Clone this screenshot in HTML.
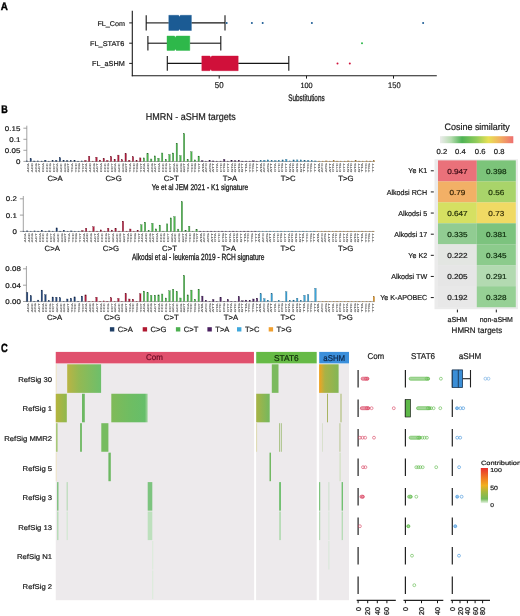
<!DOCTYPE html><html><head><meta charset="utf-8"><style>html,body{margin:0;padding:0;background:#fff;}body{width:520px;height:616px;overflow:hidden;}svg{display:block;will-change:transform;text-rendering:geometricPrecision;font-family:"Liberation Sans", sans-serif;}</style></head><body>
<svg width="520" height="616" viewBox="0 0 520 616">
<rect x="0.00" y="0.00" width="520.00" height="616.00" fill="#ffffff" />
<text transform="translate(0.70,9.80) scale(0.890,1)" font-size="11.05" fill="#000" font-weight="bold" stroke="#000" stroke-width="0.4">A</text>
<line x1="132.30" y1="10.80" x2="132.30" y2="76.30" stroke="#1a1a1a" stroke-width="1.1" />
<line x1="131.80" y1="75.80" x2="436.80" y2="75.80" stroke="#1a1a1a" stroke-width="1.1" />
<line x1="129.20" y1="22.90" x2="132.30" y2="22.90" stroke="#1a1a1a" stroke-width="1.0" />
<text transform="translate(97.40,25.60) scale(1.047,1)" font-size="6.88" fill="#1a1a1a"  stroke="#1a1a1a" stroke-width="0.2">FL_Com</text>
<line x1="146.20" y1="22.90" x2="168.80" y2="22.90" stroke="#151515" stroke-width="1.1" />
<line x1="191.40" y1="22.90" x2="225.00" y2="22.90" stroke="#151515" stroke-width="1.1" />
<line x1="146.20" y1="15.30" x2="146.20" y2="30.50" stroke="#151515" stroke-width="1.1" />
<line x1="225.00" y1="15.30" x2="225.00" y2="30.50" stroke="#151515" stroke-width="1.1" />
<polygon points="168.80,15.30 178.60,15.30 179.50,16.70 180.40,15.30 191.40,15.30 191.40,30.50 180.40,30.50 179.50,29.10 178.60,30.50 168.80,30.50" fill="#1b5b94" stroke="#1b5b94" stroke-width="0.4"/>
<circle cx="226.70" cy="22.90" r="1.0" fill="#1b5b94" stroke="none" stroke-width="0.6"/>
<circle cx="251.90" cy="22.90" r="1.0" fill="#1b5b94" stroke="none" stroke-width="0.6"/>
<circle cx="262.70" cy="22.90" r="1.0" fill="#1b5b94" stroke="none" stroke-width="0.6"/>
<circle cx="311.90" cy="22.90" r="1.0" fill="#1b5b94" stroke="none" stroke-width="0.6"/>
<circle cx="423.10" cy="22.90" r="1.0" fill="#1b5b94" stroke="none" stroke-width="0.6"/>
<line x1="129.20" y1="43.20" x2="132.30" y2="43.20" stroke="#1a1a1a" stroke-width="1.0" />
<text transform="translate(90.00,46.40) scale(1.067,1)" font-size="6.88" fill="#1a1a1a"  stroke="#1a1a1a" stroke-width="0.2">FL_STAT6</text>
<line x1="147.90" y1="43.20" x2="167.00" y2="43.20" stroke="#151515" stroke-width="1.1" />
<line x1="189.80" y1="43.20" x2="220.80" y2="43.20" stroke="#151515" stroke-width="1.1" />
<line x1="147.90" y1="36.00" x2="147.90" y2="50.50" stroke="#151515" stroke-width="1.1" />
<line x1="220.80" y1="36.00" x2="220.80" y2="50.50" stroke="#151515" stroke-width="1.1" />
<polygon points="167.00,36.00 174.50,36.00 175.40,37.40 176.30,36.00 189.80,36.00 189.80,50.50 176.30,50.50 175.40,49.10 174.50,50.50 167.00,50.50" fill="#2eb84a" stroke="#2eb84a" stroke-width="0.4"/>
<circle cx="362.00" cy="43.20" r="1.0" fill="#2eb84a" stroke="none" stroke-width="0.6"/>
<line x1="129.20" y1="63.40" x2="132.30" y2="63.40" stroke="#1a1a1a" stroke-width="1.0" />
<text transform="translate(92.10,66.30) scale(0.991,1)" font-size="7.31" fill="#1a1a1a"  stroke="#1a1a1a" stroke-width="0.2">FL_aSHM</text>
<line x1="167.30" y1="63.40" x2="201.80" y2="63.40" stroke="#151515" stroke-width="1.1" />
<line x1="238.20" y1="63.40" x2="288.80" y2="63.40" stroke="#151515" stroke-width="1.1" />
<line x1="167.30" y1="56.00" x2="167.30" y2="70.70" stroke="#151515" stroke-width="1.1" />
<line x1="288.80" y1="56.00" x2="288.80" y2="70.70" stroke="#151515" stroke-width="1.1" />
<polygon points="201.80,56.00 209.90,56.00 210.80,57.40 211.70,56.00 238.20,56.00 238.20,70.70 211.70,70.70 210.80,69.30 209.90,70.70 201.80,70.70" fill="#d0103a" stroke="#d0103a" stroke-width="0.4"/>
<circle cx="337.50" cy="63.40" r="1.0" fill="#d0103a" stroke="none" stroke-width="0.6"/>
<circle cx="349.80" cy="63.40" r="1.0" fill="#d0103a" stroke="none" stroke-width="0.6"/>
<line x1="219.20" y1="75.80" x2="219.20" y2="78.60" stroke="#1a1a1a" stroke-width="1.0" />
<text transform="translate(214.80,87.60) scale(0.936,1)" font-size="8.45" fill="#1a1a1a"  stroke="#1a1a1a" stroke-width="0.2">50</text>
<line x1="306.50" y1="75.80" x2="306.50" y2="78.60" stroke="#1a1a1a" stroke-width="1.0" />
<text transform="translate(300.40,87.50) scale(0.963,1)" font-size="7.59" fill="#1a1a1a"  stroke="#1a1a1a" stroke-width="0.2">100</text>
<line x1="393.50" y1="75.80" x2="393.50" y2="78.60" stroke="#1a1a1a" stroke-width="1.0" />
<text transform="translate(388.00,87.50) scale(0.925,1)" font-size="8.17" fill="#1a1a1a"  stroke="#1a1a1a" stroke-width="0.2">150</text>
<text transform="translate(288.30,100.90) scale(0.666,1)" font-size="9.52" fill="#1a1a1a" stroke="#1a1a1a" stroke-width="0.3">Substitutions</text>
<text transform="translate(1.30,112.50) scale(0.815,1)" font-size="11.05" fill="#000" font-weight="bold" stroke="#000" stroke-width="0.4">B</text>
<text transform="translate(145.70,119.90) scale(0.913,1)" font-size="9.89" fill="#1a1a1a"  stroke="#1a1a1a" stroke-width="0.2">HMRN - aSHM targets</text>
<line x1="26.80" y1="125.70" x2="26.80" y2="161.60" stroke="#8a8a8a" stroke-width="0.8" />
<line x1="23.40" y1="161.40" x2="26.80" y2="161.40" stroke="#8a8a8a" stroke-width="0.8" />
<text transform="translate(15.89,163.81) scale(1.150,1)" font-size="6.90" fill="#1a1a1a"  stroke="#1a1a1a" stroke-width="0.2">0</text>
<line x1="23.40" y1="150.30" x2="26.80" y2="150.30" stroke="#8a8a8a" stroke-width="0.8" />
<text transform="translate(4.86,152.71) scale(1.150,1)" font-size="6.90" fill="#1a1a1a"  stroke="#1a1a1a" stroke-width="0.2">0.05</text>
<line x1="23.40" y1="139.30" x2="26.80" y2="139.30" stroke="#8a8a8a" stroke-width="0.8" />
<text transform="translate(9.27,141.71) scale(1.150,1)" font-size="6.90" fill="#1a1a1a"  stroke="#1a1a1a" stroke-width="0.2">0.1</text>
<line x1="23.40" y1="128.20" x2="26.80" y2="128.20" stroke="#8a8a8a" stroke-width="0.8" />
<text transform="translate(4.86,130.61) scale(1.150,1)" font-size="6.90" fill="#1a1a1a"  stroke="#1a1a1a" stroke-width="0.2">0.15</text>
<line x1="26.80" y1="161.50" x2="374.94" y2="161.50" stroke="#6e6e6e" stroke-width="0.6" />
<rect x="26.40" y="160.90" width="1.40" height="0.50" fill="#22457a" stroke="#122543" stroke-width="0.3"/>
<rect x="30.05" y="158.70" width="1.40" height="2.70" fill="#22457a" stroke="#122543" stroke-width="0.3"/>
<rect x="33.70" y="161.00" width="1.40" height="0.40" fill="#22457a" stroke="#122543" stroke-width="0.3"/>
<rect x="37.35" y="160.90" width="1.40" height="0.50" fill="#22457a" stroke="#122543" stroke-width="0.3"/>
<rect x="41.00" y="161.00" width="1.40" height="0.40" fill="#22457a" stroke="#122543" stroke-width="0.3"/>
<rect x="44.66" y="160.20" width="1.40" height="1.20" fill="#22457a" stroke="#122543" stroke-width="0.3"/>
<rect x="48.31" y="161.10" width="1.40" height="0.30" fill="#22457a" stroke="#122543" stroke-width="0.3"/>
<rect x="51.96" y="160.80" width="1.40" height="0.60" fill="#22457a" stroke="#122543" stroke-width="0.3"/>
<rect x="55.61" y="160.40" width="1.40" height="1.00" fill="#22457a" stroke="#122543" stroke-width="0.3"/>
<rect x="59.26" y="157.80" width="1.40" height="3.60" fill="#22457a" stroke="#122543" stroke-width="0.3"/>
<rect x="62.91" y="160.40" width="1.40" height="1.00" fill="#22457a" stroke="#122543" stroke-width="0.3"/>
<rect x="66.56" y="160.60" width="1.40" height="0.80" fill="#22457a" stroke="#122543" stroke-width="0.3"/>
<rect x="70.21" y="160.60" width="1.40" height="0.80" fill="#22457a" stroke="#122543" stroke-width="0.3"/>
<rect x="73.86" y="160.60" width="1.40" height="0.80" fill="#22457a" stroke="#122543" stroke-width="0.3"/>
<rect x="77.51" y="161.10" width="1.40" height="0.30" fill="#22457a" stroke="#122543" stroke-width="0.3"/>
<rect x="81.17" y="160.90" width="1.40" height="0.50" fill="#22457a" stroke="#122543" stroke-width="0.3"/>
<rect x="84.82" y="160.40" width="1.40" height="1.00" fill="#b51d3e" stroke="#630f22" stroke-width="0.3"/>
<rect x="88.47" y="156.20" width="1.40" height="5.20" fill="#b51d3e" stroke="#630f22" stroke-width="0.3"/>
<rect x="92.12" y="161.10" width="1.40" height="0.30" fill="#b51d3e" stroke="#630f22" stroke-width="0.3"/>
<rect x="95.77" y="157.20" width="1.40" height="4.20" fill="#b51d3e" stroke="#630f22" stroke-width="0.3"/>
<rect x="99.42" y="160.10" width="1.40" height="1.30" fill="#b51d3e" stroke="#630f22" stroke-width="0.3"/>
<rect x="103.07" y="158.40" width="1.40" height="3.00" fill="#b51d3e" stroke="#630f22" stroke-width="0.3"/>
<rect x="106.72" y="160.40" width="1.40" height="1.00" fill="#b51d3e" stroke="#630f22" stroke-width="0.3"/>
<rect x="110.37" y="156.60" width="1.40" height="4.80" fill="#b51d3e" stroke="#630f22" stroke-width="0.3"/>
<rect x="114.02" y="159.20" width="1.40" height="2.20" fill="#b51d3e" stroke="#630f22" stroke-width="0.3"/>
<rect x="117.67" y="155.10" width="1.40" height="6.30" fill="#b51d3e" stroke="#630f22" stroke-width="0.3"/>
<rect x="121.33" y="159.80" width="1.40" height="1.60" fill="#b51d3e" stroke="#630f22" stroke-width="0.3"/>
<rect x="124.98" y="153.60" width="1.40" height="7.80" fill="#b51d3e" stroke="#630f22" stroke-width="0.3"/>
<rect x="128.63" y="160.20" width="1.40" height="1.20" fill="#b51d3e" stroke="#630f22" stroke-width="0.3"/>
<rect x="132.28" y="156.80" width="1.40" height="4.60" fill="#b51d3e" stroke="#630f22" stroke-width="0.3"/>
<rect x="135.93" y="160.60" width="1.40" height="0.80" fill="#b51d3e" stroke="#630f22" stroke-width="0.3"/>
<rect x="139.58" y="157.90" width="1.40" height="3.50" fill="#b51d3e" stroke="#630f22" stroke-width="0.3"/>
<rect x="143.23" y="157.90" width="1.40" height="3.50" fill="#4cb84e" stroke="#29652a" stroke-width="0.3"/>
<rect x="146.88" y="153.40" width="1.40" height="8.00" fill="#4cb84e" stroke="#29652a" stroke-width="0.3"/>
<rect x="150.53" y="159.00" width="1.40" height="2.40" fill="#4cb84e" stroke="#29652a" stroke-width="0.3"/>
<rect x="154.19" y="155.90" width="1.40" height="5.50" fill="#4cb84e" stroke="#29652a" stroke-width="0.3"/>
<rect x="157.84" y="158.20" width="1.40" height="3.20" fill="#4cb84e" stroke="#29652a" stroke-width="0.3"/>
<rect x="161.49" y="153.00" width="1.40" height="8.40" fill="#4cb84e" stroke="#29652a" stroke-width="0.3"/>
<rect x="165.14" y="159.40" width="1.40" height="2.00" fill="#4cb84e" stroke="#29652a" stroke-width="0.3"/>
<rect x="168.79" y="154.50" width="1.40" height="6.90" fill="#4cb84e" stroke="#29652a" stroke-width="0.3"/>
<rect x="172.44" y="153.00" width="1.40" height="8.40" fill="#4cb84e" stroke="#29652a" stroke-width="0.3"/>
<rect x="176.09" y="143.20" width="1.40" height="18.20" fill="#4cb84e" stroke="#29652a" stroke-width="0.3"/>
<rect x="179.74" y="155.60" width="1.40" height="5.80" fill="#4cb84e" stroke="#29652a" stroke-width="0.3"/>
<rect x="183.39" y="133.60" width="1.40" height="27.80" fill="#4cb84e" stroke="#29652a" stroke-width="0.3"/>
<rect x="187.04" y="159.40" width="1.40" height="2.00" fill="#4cb84e" stroke="#29652a" stroke-width="0.3"/>
<rect x="190.69" y="151.80" width="1.40" height="9.60" fill="#4cb84e" stroke="#29652a" stroke-width="0.3"/>
<rect x="194.35" y="159.90" width="1.40" height="1.50" fill="#4cb84e" stroke="#29652a" stroke-width="0.3"/>
<rect x="198.00" y="156.10" width="1.40" height="5.30" fill="#4cb84e" stroke="#29652a" stroke-width="0.3"/>
<rect x="201.65" y="160.60" width="1.40" height="0.80" fill="#4f2566" stroke="#2b1438" stroke-width="0.3"/>
<rect x="205.30" y="161.05" width="1.40" height="0.35" fill="#4f2566" stroke="#2b1438" stroke-width="0.3"/>
<rect x="208.95" y="160.20" width="1.40" height="1.20" fill="#4f2566" stroke="#2b1438" stroke-width="0.3"/>
<rect x="212.60" y="160.90" width="1.40" height="0.50" fill="#4f2566" stroke="#2b1438" stroke-width="0.3"/>
<rect x="216.25" y="161.05" width="1.40" height="0.35" fill="#4f2566" stroke="#2b1438" stroke-width="0.3"/>
<rect x="219.90" y="161.05" width="1.40" height="0.35" fill="#4f2566" stroke="#2b1438" stroke-width="0.3"/>
<rect x="223.55" y="159.40" width="1.40" height="2.00" fill="#4f2566" stroke="#2b1438" stroke-width="0.3"/>
<rect x="227.20" y="161.05" width="1.40" height="0.35" fill="#4f2566" stroke="#2b1438" stroke-width="0.3"/>
<rect x="230.86" y="160.20" width="1.40" height="1.20" fill="#4f2566" stroke="#2b1438" stroke-width="0.3"/>
<rect x="234.51" y="160.80" width="1.40" height="0.60" fill="#4f2566" stroke="#2b1438" stroke-width="0.3"/>
<rect x="238.16" y="160.20" width="1.40" height="1.20" fill="#4f2566" stroke="#2b1438" stroke-width="0.3"/>
<rect x="241.81" y="161.05" width="1.40" height="0.35" fill="#4f2566" stroke="#2b1438" stroke-width="0.3"/>
<rect x="245.46" y="161.05" width="1.40" height="0.35" fill="#4f2566" stroke="#2b1438" stroke-width="0.3"/>
<rect x="249.11" y="161.05" width="1.40" height="0.35" fill="#4f2566" stroke="#2b1438" stroke-width="0.3"/>
<rect x="252.76" y="160.80" width="1.40" height="0.60" fill="#4f2566" stroke="#2b1438" stroke-width="0.3"/>
<rect x="256.41" y="161.05" width="1.40" height="0.35" fill="#4f2566" stroke="#2b1438" stroke-width="0.3"/>
<rect x="260.06" y="160.40" width="1.40" height="1.00" fill="#3aa6dc" stroke="#1f5b79" stroke-width="0.3"/>
<rect x="263.72" y="160.20" width="1.40" height="1.20" fill="#3aa6dc" stroke="#1f5b79" stroke-width="0.3"/>
<rect x="267.37" y="159.90" width="1.40" height="1.50" fill="#3aa6dc" stroke="#1f5b79" stroke-width="0.3"/>
<rect x="271.02" y="160.60" width="1.40" height="0.80" fill="#3aa6dc" stroke="#1f5b79" stroke-width="0.3"/>
<rect x="274.67" y="160.60" width="1.40" height="0.80" fill="#3aa6dc" stroke="#1f5b79" stroke-width="0.3"/>
<rect x="278.32" y="160.40" width="1.40" height="1.00" fill="#3aa6dc" stroke="#1f5b79" stroke-width="0.3"/>
<rect x="281.97" y="159.90" width="1.40" height="1.50" fill="#3aa6dc" stroke="#1f5b79" stroke-width="0.3"/>
<rect x="285.62" y="159.40" width="1.40" height="2.00" fill="#3aa6dc" stroke="#1f5b79" stroke-width="0.3"/>
<rect x="289.27" y="160.90" width="1.40" height="0.50" fill="#3aa6dc" stroke="#1f5b79" stroke-width="0.3"/>
<rect x="292.92" y="159.90" width="1.40" height="1.50" fill="#3aa6dc" stroke="#1f5b79" stroke-width="0.3"/>
<rect x="296.57" y="159.90" width="1.40" height="1.50" fill="#3aa6dc" stroke="#1f5b79" stroke-width="0.3"/>
<rect x="300.23" y="159.90" width="1.40" height="1.50" fill="#3aa6dc" stroke="#1f5b79" stroke-width="0.3"/>
<rect x="303.88" y="160.40" width="1.40" height="1.00" fill="#3aa6dc" stroke="#1f5b79" stroke-width="0.3"/>
<rect x="307.53" y="160.40" width="1.40" height="1.00" fill="#3aa6dc" stroke="#1f5b79" stroke-width="0.3"/>
<rect x="311.18" y="160.80" width="1.40" height="0.60" fill="#3aa6dc" stroke="#1f5b79" stroke-width="0.3"/>
<rect x="314.83" y="160.90" width="1.40" height="0.50" fill="#3aa6dc" stroke="#1f5b79" stroke-width="0.3"/>
<rect x="318.48" y="161.05" width="1.40" height="0.35" fill="#efa02e" stroke="#835819" stroke-width="0.3"/>
<rect x="322.13" y="161.05" width="1.40" height="0.35" fill="#efa02e" stroke="#835819" stroke-width="0.3"/>
<rect x="325.78" y="160.90" width="1.40" height="0.50" fill="#efa02e" stroke="#835819" stroke-width="0.3"/>
<rect x="329.43" y="161.05" width="1.40" height="0.35" fill="#efa02e" stroke="#835819" stroke-width="0.3"/>
<rect x="333.08" y="160.80" width="1.40" height="0.60" fill="#efa02e" stroke="#835819" stroke-width="0.3"/>
<rect x="336.74" y="161.05" width="1.40" height="0.35" fill="#efa02e" stroke="#835819" stroke-width="0.3"/>
<rect x="340.39" y="161.05" width="1.40" height="0.35" fill="#efa02e" stroke="#835819" stroke-width="0.3"/>
<rect x="344.04" y="161.05" width="1.40" height="0.35" fill="#efa02e" stroke="#835819" stroke-width="0.3"/>
<rect x="347.69" y="160.90" width="1.40" height="0.50" fill="#efa02e" stroke="#835819" stroke-width="0.3"/>
<rect x="351.34" y="161.05" width="1.40" height="0.35" fill="#efa02e" stroke="#835819" stroke-width="0.3"/>
<rect x="354.99" y="160.80" width="1.40" height="0.60" fill="#efa02e" stroke="#835819" stroke-width="0.3"/>
<rect x="358.64" y="161.05" width="1.40" height="0.35" fill="#efa02e" stroke="#835819" stroke-width="0.3"/>
<rect x="362.29" y="161.05" width="1.40" height="0.35" fill="#efa02e" stroke="#835819" stroke-width="0.3"/>
<rect x="365.94" y="160.90" width="1.40" height="0.50" fill="#efa02e" stroke="#835819" stroke-width="0.3"/>
<rect x="369.59" y="161.05" width="1.40" height="0.35" fill="#efa02e" stroke="#835819" stroke-width="0.3"/>
<rect x="373.25" y="160.80" width="1.40" height="0.60" fill="#efa02e" stroke="#835819" stroke-width="0.3"/>
<text transform="translate(29.35,163.25) rotate(-90)" font-size="2.65" text-anchor="end" fill="#5a5a5a" stroke="#5a5a5a" stroke-width="0.12" textLength="8.9" lengthAdjust="spacingAndGlyphs">ACA</text>
<text transform="translate(32.98,163.25) rotate(-90)" font-size="2.65" text-anchor="end" fill="#5a5a5a" stroke="#5a5a5a" stroke-width="0.12" textLength="8.9" lengthAdjust="spacingAndGlyphs">ACC</text>
<text transform="translate(36.61,163.25) rotate(-90)" font-size="2.65" text-anchor="end" fill="#5a5a5a" stroke="#5a5a5a" stroke-width="0.12" textLength="8.9" lengthAdjust="spacingAndGlyphs">ACG</text>
<text transform="translate(40.24,163.25) rotate(-90)" font-size="2.65" text-anchor="end" fill="#5a5a5a" stroke="#5a5a5a" stroke-width="0.12" textLength="8.9" lengthAdjust="spacingAndGlyphs">ACT</text>
<text transform="translate(43.87,163.25) rotate(-90)" font-size="2.65" text-anchor="end" fill="#5a5a5a" stroke="#5a5a5a" stroke-width="0.12" textLength="8.9" lengthAdjust="spacingAndGlyphs">CCA</text>
<text transform="translate(47.50,163.25) rotate(-90)" font-size="2.65" text-anchor="end" fill="#5a5a5a" stroke="#5a5a5a" stroke-width="0.12" textLength="8.9" lengthAdjust="spacingAndGlyphs">CCC</text>
<text transform="translate(51.12,163.25) rotate(-90)" font-size="2.65" text-anchor="end" fill="#5a5a5a" stroke="#5a5a5a" stroke-width="0.12" textLength="8.9" lengthAdjust="spacingAndGlyphs">CCG</text>
<text transform="translate(54.75,163.25) rotate(-90)" font-size="2.65" text-anchor="end" fill="#5a5a5a" stroke="#5a5a5a" stroke-width="0.12" textLength="8.9" lengthAdjust="spacingAndGlyphs">CCT</text>
<text transform="translate(58.38,163.25) rotate(-90)" font-size="2.65" text-anchor="end" fill="#5a5a5a" stroke="#5a5a5a" stroke-width="0.12" textLength="8.9" lengthAdjust="spacingAndGlyphs">GCA</text>
<text transform="translate(62.01,163.25) rotate(-90)" font-size="2.65" text-anchor="end" fill="#5a5a5a" stroke="#5a5a5a" stroke-width="0.12" textLength="8.9" lengthAdjust="spacingAndGlyphs">GCC</text>
<text transform="translate(65.64,163.25) rotate(-90)" font-size="2.65" text-anchor="end" fill="#5a5a5a" stroke="#5a5a5a" stroke-width="0.12" textLength="8.9" lengthAdjust="spacingAndGlyphs">GCG</text>
<text transform="translate(69.27,163.25) rotate(-90)" font-size="2.65" text-anchor="end" fill="#5a5a5a" stroke="#5a5a5a" stroke-width="0.12" textLength="8.9" lengthAdjust="spacingAndGlyphs">GCT</text>
<text transform="translate(72.90,163.25) rotate(-90)" font-size="2.65" text-anchor="end" fill="#5a5a5a" stroke="#5a5a5a" stroke-width="0.12" textLength="8.9" lengthAdjust="spacingAndGlyphs">TCA</text>
<text transform="translate(76.53,163.25) rotate(-90)" font-size="2.65" text-anchor="end" fill="#5a5a5a" stroke="#5a5a5a" stroke-width="0.12" textLength="8.9" lengthAdjust="spacingAndGlyphs">TCC</text>
<text transform="translate(80.16,163.25) rotate(-90)" font-size="2.65" text-anchor="end" fill="#5a5a5a" stroke="#5a5a5a" stroke-width="0.12" textLength="8.9" lengthAdjust="spacingAndGlyphs">TCG</text>
<text transform="translate(83.79,163.25) rotate(-90)" font-size="2.65" text-anchor="end" fill="#5a5a5a" stroke="#5a5a5a" stroke-width="0.12" textLength="8.9" lengthAdjust="spacingAndGlyphs">TCT</text>
<text transform="translate(87.41,163.25) rotate(-90)" font-size="2.65" text-anchor="end" fill="#5a5a5a" stroke="#5a5a5a" stroke-width="0.12" textLength="8.9" lengthAdjust="spacingAndGlyphs">ACA</text>
<text transform="translate(91.04,163.25) rotate(-90)" font-size="2.65" text-anchor="end" fill="#5a5a5a" stroke="#5a5a5a" stroke-width="0.12" textLength="8.9" lengthAdjust="spacingAndGlyphs">ACC</text>
<text transform="translate(94.67,163.25) rotate(-90)" font-size="2.65" text-anchor="end" fill="#5a5a5a" stroke="#5a5a5a" stroke-width="0.12" textLength="8.9" lengthAdjust="spacingAndGlyphs">ACG</text>
<text transform="translate(98.30,163.25) rotate(-90)" font-size="2.65" text-anchor="end" fill="#5a5a5a" stroke="#5a5a5a" stroke-width="0.12" textLength="8.9" lengthAdjust="spacingAndGlyphs">ACT</text>
<text transform="translate(101.93,163.25) rotate(-90)" font-size="2.65" text-anchor="end" fill="#5a5a5a" stroke="#5a5a5a" stroke-width="0.12" textLength="8.9" lengthAdjust="spacingAndGlyphs">CCA</text>
<text transform="translate(105.56,163.25) rotate(-90)" font-size="2.65" text-anchor="end" fill="#5a5a5a" stroke="#5a5a5a" stroke-width="0.12" textLength="8.9" lengthAdjust="spacingAndGlyphs">CCC</text>
<text transform="translate(109.19,163.25) rotate(-90)" font-size="2.65" text-anchor="end" fill="#5a5a5a" stroke="#5a5a5a" stroke-width="0.12" textLength="8.9" lengthAdjust="spacingAndGlyphs">CCG</text>
<text transform="translate(112.82,163.25) rotate(-90)" font-size="2.65" text-anchor="end" fill="#5a5a5a" stroke="#5a5a5a" stroke-width="0.12" textLength="8.9" lengthAdjust="spacingAndGlyphs">CCT</text>
<text transform="translate(116.45,163.25) rotate(-90)" font-size="2.65" text-anchor="end" fill="#5a5a5a" stroke="#5a5a5a" stroke-width="0.12" textLength="8.9" lengthAdjust="spacingAndGlyphs">GCA</text>
<text transform="translate(120.08,163.25) rotate(-90)" font-size="2.65" text-anchor="end" fill="#5a5a5a" stroke="#5a5a5a" stroke-width="0.12" textLength="8.9" lengthAdjust="spacingAndGlyphs">GCC</text>
<text transform="translate(123.70,163.25) rotate(-90)" font-size="2.65" text-anchor="end" fill="#5a5a5a" stroke="#5a5a5a" stroke-width="0.12" textLength="8.9" lengthAdjust="spacingAndGlyphs">GCG</text>
<text transform="translate(127.33,163.25) rotate(-90)" font-size="2.65" text-anchor="end" fill="#5a5a5a" stroke="#5a5a5a" stroke-width="0.12" textLength="8.9" lengthAdjust="spacingAndGlyphs">GCT</text>
<text transform="translate(130.96,163.25) rotate(-90)" font-size="2.65" text-anchor="end" fill="#5a5a5a" stroke="#5a5a5a" stroke-width="0.12" textLength="8.9" lengthAdjust="spacingAndGlyphs">TCA</text>
<text transform="translate(134.59,163.25) rotate(-90)" font-size="2.65" text-anchor="end" fill="#5a5a5a" stroke="#5a5a5a" stroke-width="0.12" textLength="8.9" lengthAdjust="spacingAndGlyphs">TCC</text>
<text transform="translate(138.22,163.25) rotate(-90)" font-size="2.65" text-anchor="end" fill="#5a5a5a" stroke="#5a5a5a" stroke-width="0.12" textLength="8.9" lengthAdjust="spacingAndGlyphs">TCG</text>
<text transform="translate(141.85,163.25) rotate(-90)" font-size="2.65" text-anchor="end" fill="#5a5a5a" stroke="#5a5a5a" stroke-width="0.12" textLength="8.9" lengthAdjust="spacingAndGlyphs">TCT</text>
<text transform="translate(145.48,163.25) rotate(-90)" font-size="2.65" text-anchor="end" fill="#5a5a5a" stroke="#5a5a5a" stroke-width="0.12" textLength="8.9" lengthAdjust="spacingAndGlyphs">ACA</text>
<text transform="translate(149.11,163.25) rotate(-90)" font-size="2.65" text-anchor="end" fill="#5a5a5a" stroke="#5a5a5a" stroke-width="0.12" textLength="8.9" lengthAdjust="spacingAndGlyphs">ACC</text>
<text transform="translate(152.74,163.25) rotate(-90)" font-size="2.65" text-anchor="end" fill="#5a5a5a" stroke="#5a5a5a" stroke-width="0.12" textLength="8.9" lengthAdjust="spacingAndGlyphs">ACG</text>
<text transform="translate(156.36,163.25) rotate(-90)" font-size="2.65" text-anchor="end" fill="#5a5a5a" stroke="#5a5a5a" stroke-width="0.12" textLength="8.9" lengthAdjust="spacingAndGlyphs">ACT</text>
<text transform="translate(159.99,163.25) rotate(-90)" font-size="2.65" text-anchor="end" fill="#5a5a5a" stroke="#5a5a5a" stroke-width="0.12" textLength="8.9" lengthAdjust="spacingAndGlyphs">CCA</text>
<text transform="translate(163.62,163.25) rotate(-90)" font-size="2.65" text-anchor="end" fill="#5a5a5a" stroke="#5a5a5a" stroke-width="0.12" textLength="8.9" lengthAdjust="spacingAndGlyphs">CCC</text>
<text transform="translate(167.25,163.25) rotate(-90)" font-size="2.65" text-anchor="end" fill="#5a5a5a" stroke="#5a5a5a" stroke-width="0.12" textLength="8.9" lengthAdjust="spacingAndGlyphs">CCG</text>
<text transform="translate(170.88,163.25) rotate(-90)" font-size="2.65" text-anchor="end" fill="#5a5a5a" stroke="#5a5a5a" stroke-width="0.12" textLength="8.9" lengthAdjust="spacingAndGlyphs">CCT</text>
<text transform="translate(174.51,163.25) rotate(-90)" font-size="2.65" text-anchor="end" fill="#5a5a5a" stroke="#5a5a5a" stroke-width="0.12" textLength="8.9" lengthAdjust="spacingAndGlyphs">GCA</text>
<text transform="translate(178.14,163.25) rotate(-90)" font-size="2.65" text-anchor="end" fill="#5a5a5a" stroke="#5a5a5a" stroke-width="0.12" textLength="8.9" lengthAdjust="spacingAndGlyphs">GCC</text>
<text transform="translate(181.77,163.25) rotate(-90)" font-size="2.65" text-anchor="end" fill="#5a5a5a" stroke="#5a5a5a" stroke-width="0.12" textLength="8.9" lengthAdjust="spacingAndGlyphs">GCG</text>
<text transform="translate(185.40,163.25) rotate(-90)" font-size="2.65" text-anchor="end" fill="#5a5a5a" stroke="#5a5a5a" stroke-width="0.12" textLength="8.9" lengthAdjust="spacingAndGlyphs">GCT</text>
<text transform="translate(189.03,163.25) rotate(-90)" font-size="2.65" text-anchor="end" fill="#5a5a5a" stroke="#5a5a5a" stroke-width="0.12" textLength="8.9" lengthAdjust="spacingAndGlyphs">TCA</text>
<text transform="translate(192.66,163.25) rotate(-90)" font-size="2.65" text-anchor="end" fill="#5a5a5a" stroke="#5a5a5a" stroke-width="0.12" textLength="8.9" lengthAdjust="spacingAndGlyphs">TCC</text>
<text transform="translate(196.28,163.25) rotate(-90)" font-size="2.65" text-anchor="end" fill="#5a5a5a" stroke="#5a5a5a" stroke-width="0.12" textLength="8.9" lengthAdjust="spacingAndGlyphs">TCG</text>
<text transform="translate(199.91,163.25) rotate(-90)" font-size="2.65" text-anchor="end" fill="#5a5a5a" stroke="#5a5a5a" stroke-width="0.12" textLength="8.9" lengthAdjust="spacingAndGlyphs">TCT</text>
<text transform="translate(203.54,163.25) rotate(-90)" font-size="2.65" text-anchor="end" fill="#5a5a5a" stroke="#5a5a5a" stroke-width="0.12" textLength="8.9" lengthAdjust="spacingAndGlyphs">ATA</text>
<text transform="translate(207.17,163.25) rotate(-90)" font-size="2.65" text-anchor="end" fill="#5a5a5a" stroke="#5a5a5a" stroke-width="0.12" textLength="8.9" lengthAdjust="spacingAndGlyphs">ATC</text>
<text transform="translate(210.80,163.25) rotate(-90)" font-size="2.65" text-anchor="end" fill="#5a5a5a" stroke="#5a5a5a" stroke-width="0.12" textLength="8.9" lengthAdjust="spacingAndGlyphs">ATG</text>
<text transform="translate(214.43,163.25) rotate(-90)" font-size="2.65" text-anchor="end" fill="#5a5a5a" stroke="#5a5a5a" stroke-width="0.12" textLength="8.9" lengthAdjust="spacingAndGlyphs">ATT</text>
<text transform="translate(218.06,163.25) rotate(-90)" font-size="2.65" text-anchor="end" fill="#5a5a5a" stroke="#5a5a5a" stroke-width="0.12" textLength="8.9" lengthAdjust="spacingAndGlyphs">CTA</text>
<text transform="translate(221.69,163.25) rotate(-90)" font-size="2.65" text-anchor="end" fill="#5a5a5a" stroke="#5a5a5a" stroke-width="0.12" textLength="8.9" lengthAdjust="spacingAndGlyphs">CTC</text>
<text transform="translate(225.32,163.25) rotate(-90)" font-size="2.65" text-anchor="end" fill="#5a5a5a" stroke="#5a5a5a" stroke-width="0.12" textLength="8.9" lengthAdjust="spacingAndGlyphs">CTG</text>
<text transform="translate(228.94,163.25) rotate(-90)" font-size="2.65" text-anchor="end" fill="#5a5a5a" stroke="#5a5a5a" stroke-width="0.12" textLength="8.9" lengthAdjust="spacingAndGlyphs">CTT</text>
<text transform="translate(232.57,163.25) rotate(-90)" font-size="2.65" text-anchor="end" fill="#5a5a5a" stroke="#5a5a5a" stroke-width="0.12" textLength="8.9" lengthAdjust="spacingAndGlyphs">GTA</text>
<text transform="translate(236.20,163.25) rotate(-90)" font-size="2.65" text-anchor="end" fill="#5a5a5a" stroke="#5a5a5a" stroke-width="0.12" textLength="8.9" lengthAdjust="spacingAndGlyphs">GTC</text>
<text transform="translate(239.83,163.25) rotate(-90)" font-size="2.65" text-anchor="end" fill="#5a5a5a" stroke="#5a5a5a" stroke-width="0.12" textLength="8.9" lengthAdjust="spacingAndGlyphs">GTG</text>
<text transform="translate(243.46,163.25) rotate(-90)" font-size="2.65" text-anchor="end" fill="#5a5a5a" stroke="#5a5a5a" stroke-width="0.12" textLength="8.9" lengthAdjust="spacingAndGlyphs">GTT</text>
<text transform="translate(247.09,163.25) rotate(-90)" font-size="2.65" text-anchor="end" fill="#5a5a5a" stroke="#5a5a5a" stroke-width="0.12" textLength="8.9" lengthAdjust="spacingAndGlyphs">TTA</text>
<text transform="translate(250.72,163.25) rotate(-90)" font-size="2.65" text-anchor="end" fill="#5a5a5a" stroke="#5a5a5a" stroke-width="0.12" textLength="8.9" lengthAdjust="spacingAndGlyphs">TTC</text>
<text transform="translate(254.35,163.25) rotate(-90)" font-size="2.65" text-anchor="end" fill="#5a5a5a" stroke="#5a5a5a" stroke-width="0.12" textLength="8.9" lengthAdjust="spacingAndGlyphs">TTG</text>
<text transform="translate(257.98,163.25) rotate(-90)" font-size="2.65" text-anchor="end" fill="#5a5a5a" stroke="#5a5a5a" stroke-width="0.12" textLength="8.9" lengthAdjust="spacingAndGlyphs">TTT</text>
<text transform="translate(261.61,163.25) rotate(-90)" font-size="2.65" text-anchor="end" fill="#5a5a5a" stroke="#5a5a5a" stroke-width="0.12" textLength="8.9" lengthAdjust="spacingAndGlyphs">ATA</text>
<text transform="translate(265.23,163.25) rotate(-90)" font-size="2.65" text-anchor="end" fill="#5a5a5a" stroke="#5a5a5a" stroke-width="0.12" textLength="8.9" lengthAdjust="spacingAndGlyphs">ATC</text>
<text transform="translate(268.86,163.25) rotate(-90)" font-size="2.65" text-anchor="end" fill="#5a5a5a" stroke="#5a5a5a" stroke-width="0.12" textLength="8.9" lengthAdjust="spacingAndGlyphs">ATG</text>
<text transform="translate(272.49,163.25) rotate(-90)" font-size="2.65" text-anchor="end" fill="#5a5a5a" stroke="#5a5a5a" stroke-width="0.12" textLength="8.9" lengthAdjust="spacingAndGlyphs">ATT</text>
<text transform="translate(276.12,163.25) rotate(-90)" font-size="2.65" text-anchor="end" fill="#5a5a5a" stroke="#5a5a5a" stroke-width="0.12" textLength="8.9" lengthAdjust="spacingAndGlyphs">CTA</text>
<text transform="translate(279.75,163.25) rotate(-90)" font-size="2.65" text-anchor="end" fill="#5a5a5a" stroke="#5a5a5a" stroke-width="0.12" textLength="8.9" lengthAdjust="spacingAndGlyphs">CTC</text>
<text transform="translate(283.38,163.25) rotate(-90)" font-size="2.65" text-anchor="end" fill="#5a5a5a" stroke="#5a5a5a" stroke-width="0.12" textLength="8.9" lengthAdjust="spacingAndGlyphs">CTG</text>
<text transform="translate(287.01,163.25) rotate(-90)" font-size="2.65" text-anchor="end" fill="#5a5a5a" stroke="#5a5a5a" stroke-width="0.12" textLength="8.9" lengthAdjust="spacingAndGlyphs">CTT</text>
<text transform="translate(290.64,163.25) rotate(-90)" font-size="2.65" text-anchor="end" fill="#5a5a5a" stroke="#5a5a5a" stroke-width="0.12" textLength="8.9" lengthAdjust="spacingAndGlyphs">GTA</text>
<text transform="translate(294.27,163.25) rotate(-90)" font-size="2.65" text-anchor="end" fill="#5a5a5a" stroke="#5a5a5a" stroke-width="0.12" textLength="8.9" lengthAdjust="spacingAndGlyphs">GTC</text>
<text transform="translate(297.90,163.25) rotate(-90)" font-size="2.65" text-anchor="end" fill="#5a5a5a" stroke="#5a5a5a" stroke-width="0.12" textLength="8.9" lengthAdjust="spacingAndGlyphs">GTG</text>
<text transform="translate(301.52,163.25) rotate(-90)" font-size="2.65" text-anchor="end" fill="#5a5a5a" stroke="#5a5a5a" stroke-width="0.12" textLength="8.9" lengthAdjust="spacingAndGlyphs">GTT</text>
<text transform="translate(305.15,163.25) rotate(-90)" font-size="2.65" text-anchor="end" fill="#5a5a5a" stroke="#5a5a5a" stroke-width="0.12" textLength="8.9" lengthAdjust="spacingAndGlyphs">TTA</text>
<text transform="translate(308.78,163.25) rotate(-90)" font-size="2.65" text-anchor="end" fill="#5a5a5a" stroke="#5a5a5a" stroke-width="0.12" textLength="8.9" lengthAdjust="spacingAndGlyphs">TTC</text>
<text transform="translate(312.41,163.25) rotate(-90)" font-size="2.65" text-anchor="end" fill="#5a5a5a" stroke="#5a5a5a" stroke-width="0.12" textLength="8.9" lengthAdjust="spacingAndGlyphs">TTG</text>
<text transform="translate(316.04,163.25) rotate(-90)" font-size="2.65" text-anchor="end" fill="#5a5a5a" stroke="#5a5a5a" stroke-width="0.12" textLength="8.9" lengthAdjust="spacingAndGlyphs">TTT</text>
<text transform="translate(319.67,163.25) rotate(-90)" font-size="2.65" text-anchor="end" fill="#5a5a5a" stroke="#5a5a5a" stroke-width="0.12" textLength="8.9" lengthAdjust="spacingAndGlyphs">ATA</text>
<text transform="translate(323.30,163.25) rotate(-90)" font-size="2.65" text-anchor="end" fill="#5a5a5a" stroke="#5a5a5a" stroke-width="0.12" textLength="8.9" lengthAdjust="spacingAndGlyphs">ATC</text>
<text transform="translate(326.93,163.25) rotate(-90)" font-size="2.65" text-anchor="end" fill="#5a5a5a" stroke="#5a5a5a" stroke-width="0.12" textLength="8.9" lengthAdjust="spacingAndGlyphs">ATG</text>
<text transform="translate(330.56,163.25) rotate(-90)" font-size="2.65" text-anchor="end" fill="#5a5a5a" stroke="#5a5a5a" stroke-width="0.12" textLength="8.9" lengthAdjust="spacingAndGlyphs">ATT</text>
<text transform="translate(334.19,163.25) rotate(-90)" font-size="2.65" text-anchor="end" fill="#5a5a5a" stroke="#5a5a5a" stroke-width="0.12" textLength="8.9" lengthAdjust="spacingAndGlyphs">CTA</text>
<text transform="translate(337.81,163.25) rotate(-90)" font-size="2.65" text-anchor="end" fill="#5a5a5a" stroke="#5a5a5a" stroke-width="0.12" textLength="8.9" lengthAdjust="spacingAndGlyphs">CTC</text>
<text transform="translate(341.44,163.25) rotate(-90)" font-size="2.65" text-anchor="end" fill="#5a5a5a" stroke="#5a5a5a" stroke-width="0.12" textLength="8.9" lengthAdjust="spacingAndGlyphs">CTG</text>
<text transform="translate(345.07,163.25) rotate(-90)" font-size="2.65" text-anchor="end" fill="#5a5a5a" stroke="#5a5a5a" stroke-width="0.12" textLength="8.9" lengthAdjust="spacingAndGlyphs">CTT</text>
<text transform="translate(348.70,163.25) rotate(-90)" font-size="2.65" text-anchor="end" fill="#5a5a5a" stroke="#5a5a5a" stroke-width="0.12" textLength="8.9" lengthAdjust="spacingAndGlyphs">GTA</text>
<text transform="translate(352.33,163.25) rotate(-90)" font-size="2.65" text-anchor="end" fill="#5a5a5a" stroke="#5a5a5a" stroke-width="0.12" textLength="8.9" lengthAdjust="spacingAndGlyphs">GTC</text>
<text transform="translate(355.96,163.25) rotate(-90)" font-size="2.65" text-anchor="end" fill="#5a5a5a" stroke="#5a5a5a" stroke-width="0.12" textLength="8.9" lengthAdjust="spacingAndGlyphs">GTG</text>
<text transform="translate(359.59,163.25) rotate(-90)" font-size="2.65" text-anchor="end" fill="#5a5a5a" stroke="#5a5a5a" stroke-width="0.12" textLength="8.9" lengthAdjust="spacingAndGlyphs">GTT</text>
<text transform="translate(363.22,163.25) rotate(-90)" font-size="2.65" text-anchor="end" fill="#5a5a5a" stroke="#5a5a5a" stroke-width="0.12" textLength="8.9" lengthAdjust="spacingAndGlyphs">TTA</text>
<text transform="translate(366.85,163.25) rotate(-90)" font-size="2.65" text-anchor="end" fill="#5a5a5a" stroke="#5a5a5a" stroke-width="0.12" textLength="8.9" lengthAdjust="spacingAndGlyphs">TTC</text>
<text transform="translate(370.48,163.25) rotate(-90)" font-size="2.65" text-anchor="end" fill="#5a5a5a" stroke="#5a5a5a" stroke-width="0.12" textLength="8.9" lengthAdjust="spacingAndGlyphs">TTG</text>
<text transform="translate(374.10,163.25) rotate(-90)" font-size="2.65" text-anchor="end" fill="#5a5a5a" stroke="#5a5a5a" stroke-width="0.12" textLength="8.9" lengthAdjust="spacingAndGlyphs">TTT</text>
<text transform="translate(47.50,180.90) scale(1.020,1)" font-size="7.60" fill="#1a1a1a"  stroke="#1a1a1a" stroke-width="0.2">C&gt;A</text>
<text transform="translate(105.52,180.90) scale(1.020,1)" font-size="7.60" fill="#1a1a1a"  stroke="#1a1a1a" stroke-width="0.2">C&gt;G</text>
<text transform="translate(163.87,180.90) scale(1.020,1)" font-size="7.60" fill="#1a1a1a"  stroke="#1a1a1a" stroke-width="0.2">C&gt;T</text>
<text transform="translate(222.78,180.86) scale(1.020,1)" font-size="7.60" fill="#1a1a1a"  stroke="#1a1a1a" stroke-width="0.2">T&gt;A</text>
<text transform="translate(280.77,180.90) scale(1.020,1)" font-size="7.60" fill="#1a1a1a"  stroke="#1a1a1a" stroke-width="0.2">T&gt;C</text>
<text transform="translate(338.15,180.90) scale(1.020,1)" font-size="7.60" fill="#1a1a1a"  stroke="#1a1a1a" stroke-width="0.2">T&gt;G</text>
<text transform="translate(151.70,190.30) scale(0.800,1)" font-size="8.28" fill="#1a1a1a" stroke="#1a1a1a" stroke-width="0.3">Ye et al JEM 2021 - K1 signature</text>
<line x1="23.30" y1="196.00" x2="23.30" y2="231.60" stroke="#8a8a8a" stroke-width="0.8" />
<line x1="19.90" y1="231.40" x2="23.30" y2="231.40" stroke="#8a8a8a" stroke-width="0.8" />
<text transform="translate(12.49,233.81) scale(1.150,1)" font-size="6.90" fill="#1a1a1a"  stroke="#1a1a1a" stroke-width="0.2">0</text>
<line x1="19.90" y1="215.10" x2="23.30" y2="215.10" stroke="#8a8a8a" stroke-width="0.8" />
<text transform="translate(5.87,217.51) scale(1.150,1)" font-size="6.90" fill="#1a1a1a"  stroke="#1a1a1a" stroke-width="0.2">0.1</text>
<line x1="19.90" y1="198.80" x2="23.30" y2="198.80" stroke="#8a8a8a" stroke-width="0.8" />
<text transform="translate(5.87,201.21) scale(1.150,1)" font-size="6.90" fill="#1a1a1a"  stroke="#1a1a1a" stroke-width="0.2">0.2</text>
<line x1="23.30" y1="231.50" x2="374.35" y2="231.50" stroke="#6e6e6e" stroke-width="0.6" />
<rect x="22.86" y="231.10" width="1.40" height="0.30" fill="#22457a" stroke="#122543" stroke-width="0.3"/>
<rect x="26.54" y="230.90" width="1.40" height="0.50" fill="#22457a" stroke="#122543" stroke-width="0.3"/>
<rect x="30.22" y="231.10" width="1.40" height="0.30" fill="#22457a" stroke="#122543" stroke-width="0.3"/>
<rect x="33.91" y="230.90" width="1.40" height="0.50" fill="#22457a" stroke="#122543" stroke-width="0.3"/>
<rect x="37.59" y="231.10" width="1.40" height="0.30" fill="#22457a" stroke="#122543" stroke-width="0.3"/>
<rect x="41.27" y="230.40" width="1.40" height="1.00" fill="#22457a" stroke="#122543" stroke-width="0.3"/>
<rect x="44.95" y="231.10" width="1.40" height="0.30" fill="#22457a" stroke="#122543" stroke-width="0.3"/>
<rect x="48.63" y="230.90" width="1.40" height="0.50" fill="#22457a" stroke="#122543" stroke-width="0.3"/>
<rect x="52.32" y="231.10" width="1.40" height="0.30" fill="#22457a" stroke="#122543" stroke-width="0.3"/>
<rect x="56.00" y="227.90" width="1.40" height="3.50" fill="#22457a" stroke="#122543" stroke-width="0.3"/>
<rect x="59.68" y="231.10" width="1.40" height="0.30" fill="#22457a" stroke="#122543" stroke-width="0.3"/>
<rect x="63.36" y="230.40" width="1.40" height="1.00" fill="#22457a" stroke="#122543" stroke-width="0.3"/>
<rect x="67.04" y="231.10" width="1.40" height="0.30" fill="#22457a" stroke="#122543" stroke-width="0.3"/>
<rect x="70.73" y="230.90" width="1.40" height="0.50" fill="#22457a" stroke="#122543" stroke-width="0.3"/>
<rect x="74.41" y="231.10" width="1.40" height="0.30" fill="#22457a" stroke="#122543" stroke-width="0.3"/>
<rect x="78.09" y="231.10" width="1.40" height="0.30" fill="#22457a" stroke="#122543" stroke-width="0.3"/>
<rect x="81.77" y="230.50" width="1.40" height="0.90" fill="#b51d3e" stroke="#630f22" stroke-width="0.3"/>
<rect x="85.45" y="228.20" width="1.40" height="3.20" fill="#b51d3e" stroke="#630f22" stroke-width="0.3"/>
<rect x="89.14" y="231.10" width="1.40" height="0.30" fill="#b51d3e" stroke="#630f22" stroke-width="0.3"/>
<rect x="92.82" y="226.70" width="1.40" height="4.70" fill="#b51d3e" stroke="#630f22" stroke-width="0.3"/>
<rect x="96.50" y="231.10" width="1.40" height="0.30" fill="#b51d3e" stroke="#630f22" stroke-width="0.3"/>
<rect x="100.18" y="229.90" width="1.40" height="1.50" fill="#b51d3e" stroke="#630f22" stroke-width="0.3"/>
<rect x="103.86" y="231.10" width="1.40" height="0.30" fill="#b51d3e" stroke="#630f22" stroke-width="0.3"/>
<rect x="107.55" y="228.20" width="1.40" height="3.20" fill="#b51d3e" stroke="#630f22" stroke-width="0.3"/>
<rect x="111.23" y="230.10" width="1.40" height="1.30" fill="#b51d3e" stroke="#630f22" stroke-width="0.3"/>
<rect x="114.91" y="228.20" width="1.40" height="3.20" fill="#b51d3e" stroke="#630f22" stroke-width="0.3"/>
<rect x="118.59" y="231.10" width="1.40" height="0.30" fill="#b51d3e" stroke="#630f22" stroke-width="0.3"/>
<rect x="122.27" y="221.20" width="1.40" height="10.20" fill="#b51d3e" stroke="#630f22" stroke-width="0.3"/>
<rect x="125.96" y="231.10" width="1.40" height="0.30" fill="#b51d3e" stroke="#630f22" stroke-width="0.3"/>
<rect x="129.64" y="229.00" width="1.40" height="2.40" fill="#b51d3e" stroke="#630f22" stroke-width="0.3"/>
<rect x="133.32" y="231.10" width="1.40" height="0.30" fill="#b51d3e" stroke="#630f22" stroke-width="0.3"/>
<rect x="137.00" y="230.20" width="1.40" height="1.20" fill="#b51d3e" stroke="#630f22" stroke-width="0.3"/>
<rect x="140.68" y="224.80" width="1.40" height="6.60" fill="#4cb84e" stroke="#29652a" stroke-width="0.3"/>
<rect x="144.37" y="222.20" width="1.40" height="9.20" fill="#4cb84e" stroke="#29652a" stroke-width="0.3"/>
<rect x="148.05" y="230.50" width="1.40" height="0.90" fill="#4cb84e" stroke="#29652a" stroke-width="0.3"/>
<rect x="151.73" y="223.30" width="1.40" height="8.10" fill="#4cb84e" stroke="#29652a" stroke-width="0.3"/>
<rect x="155.41" y="228.90" width="1.40" height="2.50" fill="#4cb84e" stroke="#29652a" stroke-width="0.3"/>
<rect x="159.09" y="225.10" width="1.40" height="6.30" fill="#4cb84e" stroke="#29652a" stroke-width="0.3"/>
<rect x="162.78" y="231.10" width="1.40" height="0.30" fill="#4cb84e" stroke="#29652a" stroke-width="0.3"/>
<rect x="166.46" y="223.90" width="1.40" height="7.50" fill="#4cb84e" stroke="#29652a" stroke-width="0.3"/>
<rect x="170.14" y="217.90" width="1.40" height="13.50" fill="#4cb84e" stroke="#29652a" stroke-width="0.3"/>
<rect x="173.82" y="216.60" width="1.40" height="14.80" fill="#4cb84e" stroke="#29652a" stroke-width="0.3"/>
<rect x="177.50" y="229.10" width="1.40" height="2.30" fill="#4cb84e" stroke="#29652a" stroke-width="0.3"/>
<rect x="181.19" y="201.80" width="1.40" height="29.60" fill="#4cb84e" stroke="#29652a" stroke-width="0.3"/>
<rect x="184.87" y="230.20" width="1.40" height="1.20" fill="#4cb84e" stroke="#29652a" stroke-width="0.3"/>
<rect x="188.55" y="226.20" width="1.40" height="5.20" fill="#4cb84e" stroke="#29652a" stroke-width="0.3"/>
<rect x="192.23" y="231.10" width="1.40" height="0.30" fill="#4cb84e" stroke="#29652a" stroke-width="0.3"/>
<rect x="195.91" y="229.40" width="1.40" height="2.00" fill="#4cb84e" stroke="#29652a" stroke-width="0.3"/>
<rect x="199.60" y="231.10" width="1.40" height="0.30" fill="#4f2566" stroke="#2b1438" stroke-width="0.3"/>
<rect x="203.28" y="231.10" width="1.40" height="0.30" fill="#4f2566" stroke="#2b1438" stroke-width="0.3"/>
<rect x="206.96" y="231.10" width="1.40" height="0.30" fill="#4f2566" stroke="#2b1438" stroke-width="0.3"/>
<rect x="210.64" y="231.10" width="1.40" height="0.30" fill="#4f2566" stroke="#2b1438" stroke-width="0.3"/>
<rect x="214.32" y="231.10" width="1.40" height="0.30" fill="#4f2566" stroke="#2b1438" stroke-width="0.3"/>
<rect x="218.01" y="231.10" width="1.40" height="0.30" fill="#4f2566" stroke="#2b1438" stroke-width="0.3"/>
<rect x="221.69" y="231.10" width="1.40" height="0.30" fill="#4f2566" stroke="#2b1438" stroke-width="0.3"/>
<rect x="225.37" y="231.10" width="1.40" height="0.30" fill="#4f2566" stroke="#2b1438" stroke-width="0.3"/>
<rect x="229.05" y="231.10" width="1.40" height="0.30" fill="#4f2566" stroke="#2b1438" stroke-width="0.3"/>
<rect x="232.73" y="231.10" width="1.40" height="0.30" fill="#4f2566" stroke="#2b1438" stroke-width="0.3"/>
<rect x="236.42" y="231.10" width="1.40" height="0.30" fill="#4f2566" stroke="#2b1438" stroke-width="0.3"/>
<rect x="240.10" y="231.10" width="1.40" height="0.30" fill="#4f2566" stroke="#2b1438" stroke-width="0.3"/>
<rect x="243.78" y="231.10" width="1.40" height="0.30" fill="#4f2566" stroke="#2b1438" stroke-width="0.3"/>
<rect x="247.46" y="231.10" width="1.40" height="0.30" fill="#4f2566" stroke="#2b1438" stroke-width="0.3"/>
<rect x="251.14" y="231.10" width="1.40" height="0.30" fill="#4f2566" stroke="#2b1438" stroke-width="0.3"/>
<rect x="254.83" y="231.10" width="1.40" height="0.30" fill="#4f2566" stroke="#2b1438" stroke-width="0.3"/>
<rect x="258.51" y="231.10" width="1.40" height="0.30" fill="#3aa6dc" stroke="#1f5b79" stroke-width="0.3"/>
<rect x="262.19" y="231.10" width="1.40" height="0.30" fill="#3aa6dc" stroke="#1f5b79" stroke-width="0.3"/>
<rect x="265.87" y="231.10" width="1.40" height="0.30" fill="#3aa6dc" stroke="#1f5b79" stroke-width="0.3"/>
<rect x="269.55" y="231.10" width="1.40" height="0.30" fill="#3aa6dc" stroke="#1f5b79" stroke-width="0.3"/>
<rect x="273.24" y="231.10" width="1.40" height="0.30" fill="#3aa6dc" stroke="#1f5b79" stroke-width="0.3"/>
<rect x="276.92" y="231.10" width="1.40" height="0.30" fill="#3aa6dc" stroke="#1f5b79" stroke-width="0.3"/>
<rect x="280.60" y="231.10" width="1.40" height="0.30" fill="#3aa6dc" stroke="#1f5b79" stroke-width="0.3"/>
<rect x="284.28" y="231.10" width="1.40" height="0.30" fill="#3aa6dc" stroke="#1f5b79" stroke-width="0.3"/>
<rect x="287.96" y="231.10" width="1.40" height="0.30" fill="#3aa6dc" stroke="#1f5b79" stroke-width="0.3"/>
<rect x="291.65" y="231.10" width="1.40" height="0.30" fill="#3aa6dc" stroke="#1f5b79" stroke-width="0.3"/>
<rect x="295.33" y="231.10" width="1.40" height="0.30" fill="#3aa6dc" stroke="#1f5b79" stroke-width="0.3"/>
<rect x="299.01" y="231.10" width="1.40" height="0.30" fill="#3aa6dc" stroke="#1f5b79" stroke-width="0.3"/>
<rect x="302.69" y="231.10" width="1.40" height="0.30" fill="#3aa6dc" stroke="#1f5b79" stroke-width="0.3"/>
<rect x="306.37" y="231.10" width="1.40" height="0.30" fill="#3aa6dc" stroke="#1f5b79" stroke-width="0.3"/>
<rect x="310.06" y="231.10" width="1.40" height="0.30" fill="#3aa6dc" stroke="#1f5b79" stroke-width="0.3"/>
<rect x="313.74" y="231.10" width="1.40" height="0.30" fill="#3aa6dc" stroke="#1f5b79" stroke-width="0.3"/>
<rect x="317.42" y="231.10" width="1.40" height="0.30" fill="#efa02e" stroke="#835819" stroke-width="0.3"/>
<rect x="321.10" y="231.10" width="1.40" height="0.30" fill="#efa02e" stroke="#835819" stroke-width="0.3"/>
<rect x="324.78" y="231.10" width="1.40" height="0.30" fill="#efa02e" stroke="#835819" stroke-width="0.3"/>
<rect x="328.47" y="231.10" width="1.40" height="0.30" fill="#efa02e" stroke="#835819" stroke-width="0.3"/>
<rect x="332.15" y="231.10" width="1.40" height="0.30" fill="#efa02e" stroke="#835819" stroke-width="0.3"/>
<rect x="335.83" y="231.10" width="1.40" height="0.30" fill="#efa02e" stroke="#835819" stroke-width="0.3"/>
<rect x="339.51" y="231.10" width="1.40" height="0.30" fill="#efa02e" stroke="#835819" stroke-width="0.3"/>
<rect x="343.19" y="231.10" width="1.40" height="0.30" fill="#efa02e" stroke="#835819" stroke-width="0.3"/>
<rect x="346.88" y="231.10" width="1.40" height="0.30" fill="#efa02e" stroke="#835819" stroke-width="0.3"/>
<rect x="350.56" y="231.10" width="1.40" height="0.30" fill="#efa02e" stroke="#835819" stroke-width="0.3"/>
<rect x="354.24" y="231.10" width="1.40" height="0.30" fill="#efa02e" stroke="#835819" stroke-width="0.3"/>
<rect x="357.92" y="231.10" width="1.40" height="0.30" fill="#efa02e" stroke="#835819" stroke-width="0.3"/>
<rect x="361.60" y="231.10" width="1.40" height="0.30" fill="#efa02e" stroke="#835819" stroke-width="0.3"/>
<rect x="365.29" y="231.10" width="1.40" height="0.30" fill="#efa02e" stroke="#835819" stroke-width="0.3"/>
<rect x="368.97" y="231.10" width="1.40" height="0.30" fill="#efa02e" stroke="#835819" stroke-width="0.3"/>
<rect x="372.65" y="231.10" width="1.40" height="0.30" fill="#efa02e" stroke="#835819" stroke-width="0.3"/>
<text transform="translate(26.15,233.25) rotate(-90)" font-size="2.65" text-anchor="end" fill="#5a5a5a" stroke="#5a5a5a" stroke-width="0.12" textLength="8.9" lengthAdjust="spacingAndGlyphs">ACA</text>
<text transform="translate(29.81,233.25) rotate(-90)" font-size="2.65" text-anchor="end" fill="#5a5a5a" stroke="#5a5a5a" stroke-width="0.12" textLength="8.9" lengthAdjust="spacingAndGlyphs">ACC</text>
<text transform="translate(33.47,233.25) rotate(-90)" font-size="2.65" text-anchor="end" fill="#5a5a5a" stroke="#5a5a5a" stroke-width="0.12" textLength="8.9" lengthAdjust="spacingAndGlyphs">ACG</text>
<text transform="translate(37.13,233.25) rotate(-90)" font-size="2.65" text-anchor="end" fill="#5a5a5a" stroke="#5a5a5a" stroke-width="0.12" textLength="8.9" lengthAdjust="spacingAndGlyphs">ACT</text>
<text transform="translate(40.79,233.25) rotate(-90)" font-size="2.65" text-anchor="end" fill="#5a5a5a" stroke="#5a5a5a" stroke-width="0.12" textLength="8.9" lengthAdjust="spacingAndGlyphs">CCA</text>
<text transform="translate(44.45,233.25) rotate(-90)" font-size="2.65" text-anchor="end" fill="#5a5a5a" stroke="#5a5a5a" stroke-width="0.12" textLength="8.9" lengthAdjust="spacingAndGlyphs">CCC</text>
<text transform="translate(48.11,233.25) rotate(-90)" font-size="2.65" text-anchor="end" fill="#5a5a5a" stroke="#5a5a5a" stroke-width="0.12" textLength="8.9" lengthAdjust="spacingAndGlyphs">CCG</text>
<text transform="translate(51.77,233.25) rotate(-90)" font-size="2.65" text-anchor="end" fill="#5a5a5a" stroke="#5a5a5a" stroke-width="0.12" textLength="8.9" lengthAdjust="spacingAndGlyphs">CCT</text>
<text transform="translate(55.43,233.25) rotate(-90)" font-size="2.65" text-anchor="end" fill="#5a5a5a" stroke="#5a5a5a" stroke-width="0.12" textLength="8.9" lengthAdjust="spacingAndGlyphs">GCA</text>
<text transform="translate(59.09,233.25) rotate(-90)" font-size="2.65" text-anchor="end" fill="#5a5a5a" stroke="#5a5a5a" stroke-width="0.12" textLength="8.9" lengthAdjust="spacingAndGlyphs">GCC</text>
<text transform="translate(62.75,233.25) rotate(-90)" font-size="2.65" text-anchor="end" fill="#5a5a5a" stroke="#5a5a5a" stroke-width="0.12" textLength="8.9" lengthAdjust="spacingAndGlyphs">GCG</text>
<text transform="translate(66.41,233.25) rotate(-90)" font-size="2.65" text-anchor="end" fill="#5a5a5a" stroke="#5a5a5a" stroke-width="0.12" textLength="8.9" lengthAdjust="spacingAndGlyphs">GCT</text>
<text transform="translate(70.07,233.25) rotate(-90)" font-size="2.65" text-anchor="end" fill="#5a5a5a" stroke="#5a5a5a" stroke-width="0.12" textLength="8.9" lengthAdjust="spacingAndGlyphs">TCA</text>
<text transform="translate(73.73,233.25) rotate(-90)" font-size="2.65" text-anchor="end" fill="#5a5a5a" stroke="#5a5a5a" stroke-width="0.12" textLength="8.9" lengthAdjust="spacingAndGlyphs">TCC</text>
<text transform="translate(77.39,233.25) rotate(-90)" font-size="2.65" text-anchor="end" fill="#5a5a5a" stroke="#5a5a5a" stroke-width="0.12" textLength="8.9" lengthAdjust="spacingAndGlyphs">TCG</text>
<text transform="translate(81.05,233.25) rotate(-90)" font-size="2.65" text-anchor="end" fill="#5a5a5a" stroke="#5a5a5a" stroke-width="0.12" textLength="8.9" lengthAdjust="spacingAndGlyphs">TCT</text>
<text transform="translate(84.71,233.25) rotate(-90)" font-size="2.65" text-anchor="end" fill="#5a5a5a" stroke="#5a5a5a" stroke-width="0.12" textLength="8.9" lengthAdjust="spacingAndGlyphs">ACA</text>
<text transform="translate(88.37,233.25) rotate(-90)" font-size="2.65" text-anchor="end" fill="#5a5a5a" stroke="#5a5a5a" stroke-width="0.12" textLength="8.9" lengthAdjust="spacingAndGlyphs">ACC</text>
<text transform="translate(92.03,233.25) rotate(-90)" font-size="2.65" text-anchor="end" fill="#5a5a5a" stroke="#5a5a5a" stroke-width="0.12" textLength="8.9" lengthAdjust="spacingAndGlyphs">ACG</text>
<text transform="translate(95.69,233.25) rotate(-90)" font-size="2.65" text-anchor="end" fill="#5a5a5a" stroke="#5a5a5a" stroke-width="0.12" textLength="8.9" lengthAdjust="spacingAndGlyphs">ACT</text>
<text transform="translate(99.35,233.25) rotate(-90)" font-size="2.65" text-anchor="end" fill="#5a5a5a" stroke="#5a5a5a" stroke-width="0.12" textLength="8.9" lengthAdjust="spacingAndGlyphs">CCA</text>
<text transform="translate(103.01,233.25) rotate(-90)" font-size="2.65" text-anchor="end" fill="#5a5a5a" stroke="#5a5a5a" stroke-width="0.12" textLength="8.9" lengthAdjust="spacingAndGlyphs">CCC</text>
<text transform="translate(106.67,233.25) rotate(-90)" font-size="2.65" text-anchor="end" fill="#5a5a5a" stroke="#5a5a5a" stroke-width="0.12" textLength="8.9" lengthAdjust="spacingAndGlyphs">CCG</text>
<text transform="translate(110.33,233.25) rotate(-90)" font-size="2.65" text-anchor="end" fill="#5a5a5a" stroke="#5a5a5a" stroke-width="0.12" textLength="8.9" lengthAdjust="spacingAndGlyphs">CCT</text>
<text transform="translate(113.99,233.25) rotate(-90)" font-size="2.65" text-anchor="end" fill="#5a5a5a" stroke="#5a5a5a" stroke-width="0.12" textLength="8.9" lengthAdjust="spacingAndGlyphs">GCA</text>
<text transform="translate(117.65,233.25) rotate(-90)" font-size="2.65" text-anchor="end" fill="#5a5a5a" stroke="#5a5a5a" stroke-width="0.12" textLength="8.9" lengthAdjust="spacingAndGlyphs">GCC</text>
<text transform="translate(121.31,233.25) rotate(-90)" font-size="2.65" text-anchor="end" fill="#5a5a5a" stroke="#5a5a5a" stroke-width="0.12" textLength="8.9" lengthAdjust="spacingAndGlyphs">GCG</text>
<text transform="translate(124.97,233.25) rotate(-90)" font-size="2.65" text-anchor="end" fill="#5a5a5a" stroke="#5a5a5a" stroke-width="0.12" textLength="8.9" lengthAdjust="spacingAndGlyphs">GCT</text>
<text transform="translate(128.63,233.25) rotate(-90)" font-size="2.65" text-anchor="end" fill="#5a5a5a" stroke="#5a5a5a" stroke-width="0.12" textLength="8.9" lengthAdjust="spacingAndGlyphs">TCA</text>
<text transform="translate(132.29,233.25) rotate(-90)" font-size="2.65" text-anchor="end" fill="#5a5a5a" stroke="#5a5a5a" stroke-width="0.12" textLength="8.9" lengthAdjust="spacingAndGlyphs">TCC</text>
<text transform="translate(135.95,233.25) rotate(-90)" font-size="2.65" text-anchor="end" fill="#5a5a5a" stroke="#5a5a5a" stroke-width="0.12" textLength="8.9" lengthAdjust="spacingAndGlyphs">TCG</text>
<text transform="translate(139.61,233.25) rotate(-90)" font-size="2.65" text-anchor="end" fill="#5a5a5a" stroke="#5a5a5a" stroke-width="0.12" textLength="8.9" lengthAdjust="spacingAndGlyphs">TCT</text>
<text transform="translate(143.27,233.25) rotate(-90)" font-size="2.65" text-anchor="end" fill="#5a5a5a" stroke="#5a5a5a" stroke-width="0.12" textLength="8.9" lengthAdjust="spacingAndGlyphs">ACA</text>
<text transform="translate(146.93,233.25) rotate(-90)" font-size="2.65" text-anchor="end" fill="#5a5a5a" stroke="#5a5a5a" stroke-width="0.12" textLength="8.9" lengthAdjust="spacingAndGlyphs">ACC</text>
<text transform="translate(150.59,233.25) rotate(-90)" font-size="2.65" text-anchor="end" fill="#5a5a5a" stroke="#5a5a5a" stroke-width="0.12" textLength="8.9" lengthAdjust="spacingAndGlyphs">ACG</text>
<text transform="translate(154.25,233.25) rotate(-90)" font-size="2.65" text-anchor="end" fill="#5a5a5a" stroke="#5a5a5a" stroke-width="0.12" textLength="8.9" lengthAdjust="spacingAndGlyphs">ACT</text>
<text transform="translate(157.91,233.25) rotate(-90)" font-size="2.65" text-anchor="end" fill="#5a5a5a" stroke="#5a5a5a" stroke-width="0.12" textLength="8.9" lengthAdjust="spacingAndGlyphs">CCA</text>
<text transform="translate(161.57,233.25) rotate(-90)" font-size="2.65" text-anchor="end" fill="#5a5a5a" stroke="#5a5a5a" stroke-width="0.12" textLength="8.9" lengthAdjust="spacingAndGlyphs">CCC</text>
<text transform="translate(165.23,233.25) rotate(-90)" font-size="2.65" text-anchor="end" fill="#5a5a5a" stroke="#5a5a5a" stroke-width="0.12" textLength="8.9" lengthAdjust="spacingAndGlyphs">CCG</text>
<text transform="translate(168.89,233.25) rotate(-90)" font-size="2.65" text-anchor="end" fill="#5a5a5a" stroke="#5a5a5a" stroke-width="0.12" textLength="8.9" lengthAdjust="spacingAndGlyphs">CCT</text>
<text transform="translate(172.55,233.25) rotate(-90)" font-size="2.65" text-anchor="end" fill="#5a5a5a" stroke="#5a5a5a" stroke-width="0.12" textLength="8.9" lengthAdjust="spacingAndGlyphs">GCA</text>
<text transform="translate(176.21,233.25) rotate(-90)" font-size="2.65" text-anchor="end" fill="#5a5a5a" stroke="#5a5a5a" stroke-width="0.12" textLength="8.9" lengthAdjust="spacingAndGlyphs">GCC</text>
<text transform="translate(179.87,233.25) rotate(-90)" font-size="2.65" text-anchor="end" fill="#5a5a5a" stroke="#5a5a5a" stroke-width="0.12" textLength="8.9" lengthAdjust="spacingAndGlyphs">GCG</text>
<text transform="translate(183.53,233.25) rotate(-90)" font-size="2.65" text-anchor="end" fill="#5a5a5a" stroke="#5a5a5a" stroke-width="0.12" textLength="8.9" lengthAdjust="spacingAndGlyphs">GCT</text>
<text transform="translate(187.19,233.25) rotate(-90)" font-size="2.65" text-anchor="end" fill="#5a5a5a" stroke="#5a5a5a" stroke-width="0.12" textLength="8.9" lengthAdjust="spacingAndGlyphs">TCA</text>
<text transform="translate(190.85,233.25) rotate(-90)" font-size="2.65" text-anchor="end" fill="#5a5a5a" stroke="#5a5a5a" stroke-width="0.12" textLength="8.9" lengthAdjust="spacingAndGlyphs">TCC</text>
<text transform="translate(194.51,233.25) rotate(-90)" font-size="2.65" text-anchor="end" fill="#5a5a5a" stroke="#5a5a5a" stroke-width="0.12" textLength="8.9" lengthAdjust="spacingAndGlyphs">TCG</text>
<text transform="translate(198.17,233.25) rotate(-90)" font-size="2.65" text-anchor="end" fill="#5a5a5a" stroke="#5a5a5a" stroke-width="0.12" textLength="8.9" lengthAdjust="spacingAndGlyphs">TCT</text>
<text transform="translate(201.83,233.25) rotate(-90)" font-size="2.65" text-anchor="end" fill="#5a5a5a" stroke="#5a5a5a" stroke-width="0.12" textLength="8.9" lengthAdjust="spacingAndGlyphs">ATA</text>
<text transform="translate(205.49,233.25) rotate(-90)" font-size="2.65" text-anchor="end" fill="#5a5a5a" stroke="#5a5a5a" stroke-width="0.12" textLength="8.9" lengthAdjust="spacingAndGlyphs">ATC</text>
<text transform="translate(209.15,233.25) rotate(-90)" font-size="2.65" text-anchor="end" fill="#5a5a5a" stroke="#5a5a5a" stroke-width="0.12" textLength="8.9" lengthAdjust="spacingAndGlyphs">ATG</text>
<text transform="translate(212.81,233.25) rotate(-90)" font-size="2.65" text-anchor="end" fill="#5a5a5a" stroke="#5a5a5a" stroke-width="0.12" textLength="8.9" lengthAdjust="spacingAndGlyphs">ATT</text>
<text transform="translate(216.47,233.25) rotate(-90)" font-size="2.65" text-anchor="end" fill="#5a5a5a" stroke="#5a5a5a" stroke-width="0.12" textLength="8.9" lengthAdjust="spacingAndGlyphs">CTA</text>
<text transform="translate(220.13,233.25) rotate(-90)" font-size="2.65" text-anchor="end" fill="#5a5a5a" stroke="#5a5a5a" stroke-width="0.12" textLength="8.9" lengthAdjust="spacingAndGlyphs">CTC</text>
<text transform="translate(223.79,233.25) rotate(-90)" font-size="2.65" text-anchor="end" fill="#5a5a5a" stroke="#5a5a5a" stroke-width="0.12" textLength="8.9" lengthAdjust="spacingAndGlyphs">CTG</text>
<text transform="translate(227.45,233.25) rotate(-90)" font-size="2.65" text-anchor="end" fill="#5a5a5a" stroke="#5a5a5a" stroke-width="0.12" textLength="8.9" lengthAdjust="spacingAndGlyphs">CTT</text>
<text transform="translate(231.11,233.25) rotate(-90)" font-size="2.65" text-anchor="end" fill="#5a5a5a" stroke="#5a5a5a" stroke-width="0.12" textLength="8.9" lengthAdjust="spacingAndGlyphs">GTA</text>
<text transform="translate(234.77,233.25) rotate(-90)" font-size="2.65" text-anchor="end" fill="#5a5a5a" stroke="#5a5a5a" stroke-width="0.12" textLength="8.9" lengthAdjust="spacingAndGlyphs">GTC</text>
<text transform="translate(238.43,233.25) rotate(-90)" font-size="2.65" text-anchor="end" fill="#5a5a5a" stroke="#5a5a5a" stroke-width="0.12" textLength="8.9" lengthAdjust="spacingAndGlyphs">GTG</text>
<text transform="translate(242.09,233.25) rotate(-90)" font-size="2.65" text-anchor="end" fill="#5a5a5a" stroke="#5a5a5a" stroke-width="0.12" textLength="8.9" lengthAdjust="spacingAndGlyphs">GTT</text>
<text transform="translate(245.75,233.25) rotate(-90)" font-size="2.65" text-anchor="end" fill="#5a5a5a" stroke="#5a5a5a" stroke-width="0.12" textLength="8.9" lengthAdjust="spacingAndGlyphs">TTA</text>
<text transform="translate(249.41,233.25) rotate(-90)" font-size="2.65" text-anchor="end" fill="#5a5a5a" stroke="#5a5a5a" stroke-width="0.12" textLength="8.9" lengthAdjust="spacingAndGlyphs">TTC</text>
<text transform="translate(253.07,233.25) rotate(-90)" font-size="2.65" text-anchor="end" fill="#5a5a5a" stroke="#5a5a5a" stroke-width="0.12" textLength="8.9" lengthAdjust="spacingAndGlyphs">TTG</text>
<text transform="translate(256.73,233.25) rotate(-90)" font-size="2.65" text-anchor="end" fill="#5a5a5a" stroke="#5a5a5a" stroke-width="0.12" textLength="8.9" lengthAdjust="spacingAndGlyphs">TTT</text>
<text transform="translate(260.39,233.25) rotate(-90)" font-size="2.65" text-anchor="end" fill="#5a5a5a" stroke="#5a5a5a" stroke-width="0.12" textLength="8.9" lengthAdjust="spacingAndGlyphs">ATA</text>
<text transform="translate(264.05,233.25) rotate(-90)" font-size="2.65" text-anchor="end" fill="#5a5a5a" stroke="#5a5a5a" stroke-width="0.12" textLength="8.9" lengthAdjust="spacingAndGlyphs">ATC</text>
<text transform="translate(267.71,233.25) rotate(-90)" font-size="2.65" text-anchor="end" fill="#5a5a5a" stroke="#5a5a5a" stroke-width="0.12" textLength="8.9" lengthAdjust="spacingAndGlyphs">ATG</text>
<text transform="translate(271.37,233.25) rotate(-90)" font-size="2.65" text-anchor="end" fill="#5a5a5a" stroke="#5a5a5a" stroke-width="0.12" textLength="8.9" lengthAdjust="spacingAndGlyphs">ATT</text>
<text transform="translate(275.03,233.25) rotate(-90)" font-size="2.65" text-anchor="end" fill="#5a5a5a" stroke="#5a5a5a" stroke-width="0.12" textLength="8.9" lengthAdjust="spacingAndGlyphs">CTA</text>
<text transform="translate(278.69,233.25) rotate(-90)" font-size="2.65" text-anchor="end" fill="#5a5a5a" stroke="#5a5a5a" stroke-width="0.12" textLength="8.9" lengthAdjust="spacingAndGlyphs">CTC</text>
<text transform="translate(282.35,233.25) rotate(-90)" font-size="2.65" text-anchor="end" fill="#5a5a5a" stroke="#5a5a5a" stroke-width="0.12" textLength="8.9" lengthAdjust="spacingAndGlyphs">CTG</text>
<text transform="translate(286.01,233.25) rotate(-90)" font-size="2.65" text-anchor="end" fill="#5a5a5a" stroke="#5a5a5a" stroke-width="0.12" textLength="8.9" lengthAdjust="spacingAndGlyphs">CTT</text>
<text transform="translate(289.67,233.25) rotate(-90)" font-size="2.65" text-anchor="end" fill="#5a5a5a" stroke="#5a5a5a" stroke-width="0.12" textLength="8.9" lengthAdjust="spacingAndGlyphs">GTA</text>
<text transform="translate(293.33,233.25) rotate(-90)" font-size="2.65" text-anchor="end" fill="#5a5a5a" stroke="#5a5a5a" stroke-width="0.12" textLength="8.9" lengthAdjust="spacingAndGlyphs">GTC</text>
<text transform="translate(296.99,233.25) rotate(-90)" font-size="2.65" text-anchor="end" fill="#5a5a5a" stroke="#5a5a5a" stroke-width="0.12" textLength="8.9" lengthAdjust="spacingAndGlyphs">GTG</text>
<text transform="translate(300.65,233.25) rotate(-90)" font-size="2.65" text-anchor="end" fill="#5a5a5a" stroke="#5a5a5a" stroke-width="0.12" textLength="8.9" lengthAdjust="spacingAndGlyphs">GTT</text>
<text transform="translate(304.31,233.25) rotate(-90)" font-size="2.65" text-anchor="end" fill="#5a5a5a" stroke="#5a5a5a" stroke-width="0.12" textLength="8.9" lengthAdjust="spacingAndGlyphs">TTA</text>
<text transform="translate(307.97,233.25) rotate(-90)" font-size="2.65" text-anchor="end" fill="#5a5a5a" stroke="#5a5a5a" stroke-width="0.12" textLength="8.9" lengthAdjust="spacingAndGlyphs">TTC</text>
<text transform="translate(311.63,233.25) rotate(-90)" font-size="2.65" text-anchor="end" fill="#5a5a5a" stroke="#5a5a5a" stroke-width="0.12" textLength="8.9" lengthAdjust="spacingAndGlyphs">TTG</text>
<text transform="translate(315.29,233.25) rotate(-90)" font-size="2.65" text-anchor="end" fill="#5a5a5a" stroke="#5a5a5a" stroke-width="0.12" textLength="8.9" lengthAdjust="spacingAndGlyphs">TTT</text>
<text transform="translate(318.95,233.25) rotate(-90)" font-size="2.65" text-anchor="end" fill="#5a5a5a" stroke="#5a5a5a" stroke-width="0.12" textLength="8.9" lengthAdjust="spacingAndGlyphs">ATA</text>
<text transform="translate(322.61,233.25) rotate(-90)" font-size="2.65" text-anchor="end" fill="#5a5a5a" stroke="#5a5a5a" stroke-width="0.12" textLength="8.9" lengthAdjust="spacingAndGlyphs">ATC</text>
<text transform="translate(326.27,233.25) rotate(-90)" font-size="2.65" text-anchor="end" fill="#5a5a5a" stroke="#5a5a5a" stroke-width="0.12" textLength="8.9" lengthAdjust="spacingAndGlyphs">ATG</text>
<text transform="translate(329.93,233.25) rotate(-90)" font-size="2.65" text-anchor="end" fill="#5a5a5a" stroke="#5a5a5a" stroke-width="0.12" textLength="8.9" lengthAdjust="spacingAndGlyphs">ATT</text>
<text transform="translate(333.59,233.25) rotate(-90)" font-size="2.65" text-anchor="end" fill="#5a5a5a" stroke="#5a5a5a" stroke-width="0.12" textLength="8.9" lengthAdjust="spacingAndGlyphs">CTA</text>
<text transform="translate(337.25,233.25) rotate(-90)" font-size="2.65" text-anchor="end" fill="#5a5a5a" stroke="#5a5a5a" stroke-width="0.12" textLength="8.9" lengthAdjust="spacingAndGlyphs">CTC</text>
<text transform="translate(340.91,233.25) rotate(-90)" font-size="2.65" text-anchor="end" fill="#5a5a5a" stroke="#5a5a5a" stroke-width="0.12" textLength="8.9" lengthAdjust="spacingAndGlyphs">CTG</text>
<text transform="translate(344.57,233.25) rotate(-90)" font-size="2.65" text-anchor="end" fill="#5a5a5a" stroke="#5a5a5a" stroke-width="0.12" textLength="8.9" lengthAdjust="spacingAndGlyphs">CTT</text>
<text transform="translate(348.23,233.25) rotate(-90)" font-size="2.65" text-anchor="end" fill="#5a5a5a" stroke="#5a5a5a" stroke-width="0.12" textLength="8.9" lengthAdjust="spacingAndGlyphs">GTA</text>
<text transform="translate(351.89,233.25) rotate(-90)" font-size="2.65" text-anchor="end" fill="#5a5a5a" stroke="#5a5a5a" stroke-width="0.12" textLength="8.9" lengthAdjust="spacingAndGlyphs">GTC</text>
<text transform="translate(355.55,233.25) rotate(-90)" font-size="2.65" text-anchor="end" fill="#5a5a5a" stroke="#5a5a5a" stroke-width="0.12" textLength="8.9" lengthAdjust="spacingAndGlyphs">GTG</text>
<text transform="translate(359.21,233.25) rotate(-90)" font-size="2.65" text-anchor="end" fill="#5a5a5a" stroke="#5a5a5a" stroke-width="0.12" textLength="8.9" lengthAdjust="spacingAndGlyphs">GTT</text>
<text transform="translate(362.87,233.25) rotate(-90)" font-size="2.65" text-anchor="end" fill="#5a5a5a" stroke="#5a5a5a" stroke-width="0.12" textLength="8.9" lengthAdjust="spacingAndGlyphs">TTA</text>
<text transform="translate(366.53,233.25) rotate(-90)" font-size="2.65" text-anchor="end" fill="#5a5a5a" stroke="#5a5a5a" stroke-width="0.12" textLength="8.9" lengthAdjust="spacingAndGlyphs">TTC</text>
<text transform="translate(370.19,233.25) rotate(-90)" font-size="2.65" text-anchor="end" fill="#5a5a5a" stroke="#5a5a5a" stroke-width="0.12" textLength="8.9" lengthAdjust="spacingAndGlyphs">TTG</text>
<text transform="translate(373.85,233.25) rotate(-90)" font-size="2.65" text-anchor="end" fill="#5a5a5a" stroke="#5a5a5a" stroke-width="0.12" textLength="8.9" lengthAdjust="spacingAndGlyphs">TTT</text>
<text transform="translate(44.55,250.85) scale(1.020,1)" font-size="7.60" fill="#1a1a1a"  stroke="#1a1a1a" stroke-width="0.2">C&gt;A</text>
<text transform="translate(102.82,250.85) scale(1.020,1)" font-size="7.60" fill="#1a1a1a"  stroke="#1a1a1a" stroke-width="0.2">C&gt;G</text>
<text transform="translate(162.07,250.85) scale(1.020,1)" font-size="7.60" fill="#1a1a1a"  stroke="#1a1a1a" stroke-width="0.2">C&gt;T</text>
<text transform="translate(221.38,250.81) scale(1.020,1)" font-size="7.60" fill="#1a1a1a"  stroke="#1a1a1a" stroke-width="0.2">T&gt;A</text>
<text transform="translate(280.57,250.85) scale(1.020,1)" font-size="7.60" fill="#1a1a1a"  stroke="#1a1a1a" stroke-width="0.2">T&gt;C</text>
<text transform="translate(337.95,250.85) scale(1.020,1)" font-size="7.60" fill="#1a1a1a"  stroke="#1a1a1a" stroke-width="0.2">T&gt;G</text>
<text transform="translate(131.90,260.20) scale(0.730,1)" font-size="8.97" fill="#1a1a1a" stroke="#1a1a1a" stroke-width="0.3">Alkodsi et al - leukemia 2019 - RCH signature</text>
<line x1="26.40" y1="266.00" x2="26.40" y2="301.70" stroke="#8a8a8a" stroke-width="0.8" />
<line x1="23.00" y1="301.50" x2="26.40" y2="301.50" stroke="#8a8a8a" stroke-width="0.8" />
<text transform="translate(5.36,303.91) scale(1.150,1)" font-size="6.90" fill="#1a1a1a"  stroke="#1a1a1a" stroke-width="0.2">0.00</text>
<line x1="23.00" y1="285.20" x2="26.40" y2="285.20" stroke="#8a8a8a" stroke-width="0.8" />
<text transform="translate(5.36,287.61) scale(1.150,1)" font-size="6.90" fill="#1a1a1a"  stroke="#1a1a1a" stroke-width="0.2">0.04</text>
<line x1="23.00" y1="268.80" x2="26.40" y2="268.80" stroke="#8a8a8a" stroke-width="0.8" />
<text transform="translate(5.36,271.21) scale(1.150,1)" font-size="6.90" fill="#1a1a1a"  stroke="#1a1a1a" stroke-width="0.2">0.08</text>
<line x1="26.40" y1="301.60" x2="374.86" y2="301.60" stroke="#6e6e6e" stroke-width="0.6" />
<rect x="26.50" y="292.40" width="1.40" height="9.10" fill="#22457a" stroke="#122543" stroke-width="0.3"/>
<rect x="30.15" y="295.80" width="1.40" height="5.70" fill="#22457a" stroke="#122543" stroke-width="0.3"/>
<rect x="33.80" y="301.20" width="1.40" height="0.30" fill="#22457a" stroke="#122543" stroke-width="0.3"/>
<rect x="37.45" y="300.10" width="1.40" height="1.40" fill="#22457a" stroke="#122543" stroke-width="0.3"/>
<rect x="41.10" y="290.10" width="1.40" height="11.40" fill="#22457a" stroke="#122543" stroke-width="0.3"/>
<rect x="44.74" y="294.70" width="1.40" height="6.80" fill="#22457a" stroke="#122543" stroke-width="0.3"/>
<rect x="48.39" y="300.70" width="1.40" height="0.80" fill="#22457a" stroke="#122543" stroke-width="0.3"/>
<rect x="52.04" y="297.00" width="1.40" height="4.50" fill="#22457a" stroke="#122543" stroke-width="0.3"/>
<rect x="55.69" y="297.20" width="1.40" height="4.30" fill="#22457a" stroke="#122543" stroke-width="0.3"/>
<rect x="59.34" y="297.80" width="1.40" height="3.70" fill="#22457a" stroke="#122543" stroke-width="0.3"/>
<rect x="62.99" y="301.20" width="1.40" height="0.30" fill="#22457a" stroke="#122543" stroke-width="0.3"/>
<rect x="66.64" y="299.00" width="1.40" height="2.50" fill="#22457a" stroke="#122543" stroke-width="0.3"/>
<rect x="70.29" y="298.40" width="1.40" height="3.10" fill="#22457a" stroke="#122543" stroke-width="0.3"/>
<rect x="73.94" y="296.90" width="1.40" height="4.60" fill="#22457a" stroke="#122543" stroke-width="0.3"/>
<rect x="77.59" y="301.20" width="1.40" height="0.30" fill="#22457a" stroke="#122543" stroke-width="0.3"/>
<rect x="81.23" y="296.10" width="1.40" height="5.40" fill="#22457a" stroke="#122543" stroke-width="0.3"/>
<rect x="84.88" y="294.90" width="1.40" height="6.60" fill="#b51d3e" stroke="#630f22" stroke-width="0.3"/>
<rect x="88.53" y="301.20" width="1.40" height="0.30" fill="#b51d3e" stroke="#630f22" stroke-width="0.3"/>
<rect x="92.18" y="301.20" width="1.40" height="0.30" fill="#b51d3e" stroke="#630f22" stroke-width="0.3"/>
<rect x="95.83" y="297.20" width="1.40" height="4.30" fill="#b51d3e" stroke="#630f22" stroke-width="0.3"/>
<rect x="99.48" y="301.20" width="1.40" height="0.30" fill="#b51d3e" stroke="#630f22" stroke-width="0.3"/>
<rect x="103.13" y="300.90" width="1.40" height="0.60" fill="#b51d3e" stroke="#630f22" stroke-width="0.3"/>
<rect x="106.78" y="301.20" width="1.40" height="0.30" fill="#b51d3e" stroke="#630f22" stroke-width="0.3"/>
<rect x="110.43" y="297.80" width="1.40" height="3.70" fill="#b51d3e" stroke="#630f22" stroke-width="0.3"/>
<rect x="114.08" y="301.20" width="1.40" height="0.30" fill="#b51d3e" stroke="#630f22" stroke-width="0.3"/>
<rect x="117.72" y="298.40" width="1.40" height="3.10" fill="#b51d3e" stroke="#630f22" stroke-width="0.3"/>
<rect x="121.37" y="301.20" width="1.40" height="0.30" fill="#b51d3e" stroke="#630f22" stroke-width="0.3"/>
<rect x="125.02" y="293.50" width="1.40" height="8.00" fill="#b51d3e" stroke="#630f22" stroke-width="0.3"/>
<rect x="128.67" y="299.00" width="1.40" height="2.50" fill="#b51d3e" stroke="#630f22" stroke-width="0.3"/>
<rect x="132.32" y="299.30" width="1.40" height="2.20" fill="#b51d3e" stroke="#630f22" stroke-width="0.3"/>
<rect x="135.97" y="301.20" width="1.40" height="0.30" fill="#b51d3e" stroke="#630f22" stroke-width="0.3"/>
<rect x="139.62" y="293.80" width="1.40" height="7.70" fill="#b51d3e" stroke="#630f22" stroke-width="0.3"/>
<rect x="143.27" y="291.10" width="1.40" height="10.40" fill="#4cb84e" stroke="#29652a" stroke-width="0.3"/>
<rect x="146.92" y="292.80" width="1.40" height="8.70" fill="#4cb84e" stroke="#29652a" stroke-width="0.3"/>
<rect x="150.57" y="295.40" width="1.40" height="6.10" fill="#4cb84e" stroke="#29652a" stroke-width="0.3"/>
<rect x="154.22" y="295.20" width="1.40" height="6.30" fill="#4cb84e" stroke="#29652a" stroke-width="0.3"/>
<rect x="157.86" y="294.90" width="1.40" height="6.60" fill="#4cb84e" stroke="#29652a" stroke-width="0.3"/>
<rect x="161.51" y="294.00" width="1.40" height="7.50" fill="#4cb84e" stroke="#29652a" stroke-width="0.3"/>
<rect x="165.16" y="298.00" width="1.40" height="3.50" fill="#4cb84e" stroke="#29652a" stroke-width="0.3"/>
<rect x="168.81" y="290.80" width="1.40" height="10.70" fill="#4cb84e" stroke="#29652a" stroke-width="0.3"/>
<rect x="172.46" y="289.20" width="1.40" height="12.30" fill="#4cb84e" stroke="#29652a" stroke-width="0.3"/>
<rect x="176.11" y="291.50" width="1.40" height="10.00" fill="#4cb84e" stroke="#29652a" stroke-width="0.3"/>
<rect x="179.76" y="298.00" width="1.40" height="3.50" fill="#4cb84e" stroke="#29652a" stroke-width="0.3"/>
<rect x="183.41" y="275.50" width="1.40" height="26.00" fill="#4cb84e" stroke="#29652a" stroke-width="0.3"/>
<rect x="187.06" y="294.90" width="1.40" height="6.60" fill="#4cb84e" stroke="#29652a" stroke-width="0.3"/>
<rect x="190.71" y="290.10" width="1.40" height="11.40" fill="#4cb84e" stroke="#29652a" stroke-width="0.3"/>
<rect x="194.35" y="299.30" width="1.40" height="2.20" fill="#4cb84e" stroke="#29652a" stroke-width="0.3"/>
<rect x="198.00" y="289.20" width="1.40" height="12.30" fill="#4cb84e" stroke="#29652a" stroke-width="0.3"/>
<rect x="201.65" y="296.10" width="1.40" height="5.40" fill="#4f2566" stroke="#2b1438" stroke-width="0.3"/>
<rect x="205.30" y="300.30" width="1.40" height="1.20" fill="#4f2566" stroke="#2b1438" stroke-width="0.3"/>
<rect x="208.95" y="301.20" width="1.40" height="0.30" fill="#4f2566" stroke="#2b1438" stroke-width="0.3"/>
<rect x="212.60" y="299.50" width="1.40" height="2.00" fill="#4f2566" stroke="#2b1438" stroke-width="0.3"/>
<rect x="216.25" y="301.20" width="1.40" height="0.30" fill="#4f2566" stroke="#2b1438" stroke-width="0.3"/>
<rect x="219.90" y="297.20" width="1.40" height="4.30" fill="#4f2566" stroke="#2b1438" stroke-width="0.3"/>
<rect x="223.55" y="301.20" width="1.40" height="0.30" fill="#4f2566" stroke="#2b1438" stroke-width="0.3"/>
<rect x="227.19" y="299.50" width="1.40" height="2.00" fill="#4f2566" stroke="#2b1438" stroke-width="0.3"/>
<rect x="230.84" y="301.20" width="1.40" height="0.30" fill="#4f2566" stroke="#2b1438" stroke-width="0.3"/>
<rect x="234.49" y="301.20" width="1.40" height="0.30" fill="#4f2566" stroke="#2b1438" stroke-width="0.3"/>
<rect x="238.14" y="296.50" width="1.40" height="5.00" fill="#4f2566" stroke="#2b1438" stroke-width="0.3"/>
<rect x="241.79" y="300.70" width="1.40" height="0.80" fill="#4f2566" stroke="#2b1438" stroke-width="0.3"/>
<rect x="245.44" y="300.10" width="1.40" height="1.40" fill="#4f2566" stroke="#2b1438" stroke-width="0.3"/>
<rect x="249.09" y="300.30" width="1.40" height="1.20" fill="#4f2566" stroke="#2b1438" stroke-width="0.3"/>
<rect x="252.74" y="299.00" width="1.40" height="2.50" fill="#4f2566" stroke="#2b1438" stroke-width="0.3"/>
<rect x="256.39" y="298.20" width="1.40" height="3.30" fill="#4f2566" stroke="#2b1438" stroke-width="0.3"/>
<rect x="260.04" y="293.80" width="1.40" height="7.70" fill="#3aa6dc" stroke="#1f5b79" stroke-width="0.3"/>
<rect x="263.69" y="298.70" width="1.40" height="2.80" fill="#3aa6dc" stroke="#1f5b79" stroke-width="0.3"/>
<rect x="267.33" y="300.30" width="1.40" height="1.20" fill="#3aa6dc" stroke="#1f5b79" stroke-width="0.3"/>
<rect x="270.98" y="293.80" width="1.40" height="7.70" fill="#3aa6dc" stroke="#1f5b79" stroke-width="0.3"/>
<rect x="274.63" y="301.20" width="1.40" height="0.30" fill="#3aa6dc" stroke="#1f5b79" stroke-width="0.3"/>
<rect x="278.28" y="300.70" width="1.40" height="0.80" fill="#3aa6dc" stroke="#1f5b79" stroke-width="0.3"/>
<rect x="281.93" y="301.20" width="1.40" height="0.30" fill="#3aa6dc" stroke="#1f5b79" stroke-width="0.3"/>
<rect x="285.58" y="291.80" width="1.40" height="9.70" fill="#3aa6dc" stroke="#1f5b79" stroke-width="0.3"/>
<rect x="289.23" y="300.30" width="1.40" height="1.20" fill="#3aa6dc" stroke="#1f5b79" stroke-width="0.3"/>
<rect x="292.88" y="300.10" width="1.40" height="1.40" fill="#3aa6dc" stroke="#1f5b79" stroke-width="0.3"/>
<rect x="296.53" y="298.20" width="1.40" height="3.30" fill="#3aa6dc" stroke="#1f5b79" stroke-width="0.3"/>
<rect x="300.18" y="300.30" width="1.40" height="1.20" fill="#3aa6dc" stroke="#1f5b79" stroke-width="0.3"/>
<rect x="303.82" y="295.30" width="1.40" height="6.20" fill="#3aa6dc" stroke="#1f5b79" stroke-width="0.3"/>
<rect x="307.47" y="294.70" width="1.40" height="6.80" fill="#3aa6dc" stroke="#1f5b79" stroke-width="0.3"/>
<rect x="311.12" y="301.20" width="1.40" height="0.30" fill="#3aa6dc" stroke="#1f5b79" stroke-width="0.3"/>
<rect x="314.77" y="288.30" width="1.40" height="13.20" fill="#3aa6dc" stroke="#1f5b79" stroke-width="0.3"/>
<rect x="318.42" y="301.20" width="1.40" height="0.30" fill="#efa02e" stroke="#835819" stroke-width="0.3"/>
<rect x="322.07" y="301.20" width="1.40" height="0.30" fill="#efa02e" stroke="#835819" stroke-width="0.3"/>
<rect x="325.72" y="301.20" width="1.40" height="0.30" fill="#efa02e" stroke="#835819" stroke-width="0.3"/>
<rect x="329.37" y="301.20" width="1.40" height="0.30" fill="#efa02e" stroke="#835819" stroke-width="0.3"/>
<rect x="333.02" y="301.20" width="1.40" height="0.30" fill="#efa02e" stroke="#835819" stroke-width="0.3"/>
<rect x="336.67" y="301.20" width="1.40" height="0.30" fill="#efa02e" stroke="#835819" stroke-width="0.3"/>
<rect x="340.31" y="301.20" width="1.40" height="0.30" fill="#efa02e" stroke="#835819" stroke-width="0.3"/>
<rect x="343.96" y="301.20" width="1.40" height="0.30" fill="#efa02e" stroke="#835819" stroke-width="0.3"/>
<rect x="347.61" y="301.20" width="1.40" height="0.30" fill="#efa02e" stroke="#835819" stroke-width="0.3"/>
<rect x="351.26" y="301.20" width="1.40" height="0.30" fill="#efa02e" stroke="#835819" stroke-width="0.3"/>
<rect x="354.91" y="301.20" width="1.40" height="0.30" fill="#efa02e" stroke="#835819" stroke-width="0.3"/>
<rect x="358.56" y="301.20" width="1.40" height="0.30" fill="#efa02e" stroke="#835819" stroke-width="0.3"/>
<rect x="362.21" y="301.20" width="1.40" height="0.30" fill="#efa02e" stroke="#835819" stroke-width="0.3"/>
<rect x="365.86" y="301.20" width="1.40" height="0.30" fill="#efa02e" stroke="#835819" stroke-width="0.3"/>
<rect x="369.51" y="301.20" width="1.40" height="0.30" fill="#efa02e" stroke="#835819" stroke-width="0.3"/>
<rect x="373.16" y="296.80" width="1.40" height="4.70" fill="#efa02e" stroke="#835819" stroke-width="0.3"/>
<text transform="translate(29.05,303.35) rotate(-90)" font-size="2.65" text-anchor="end" fill="#5a5a5a" stroke="#5a5a5a" stroke-width="0.12" textLength="8.9" lengthAdjust="spacingAndGlyphs">ACA</text>
<text transform="translate(32.68,303.35) rotate(-90)" font-size="2.65" text-anchor="end" fill="#5a5a5a" stroke="#5a5a5a" stroke-width="0.12" textLength="8.9" lengthAdjust="spacingAndGlyphs">ACC</text>
<text transform="translate(36.31,303.35) rotate(-90)" font-size="2.65" text-anchor="end" fill="#5a5a5a" stroke="#5a5a5a" stroke-width="0.12" textLength="8.9" lengthAdjust="spacingAndGlyphs">ACG</text>
<text transform="translate(39.94,303.35) rotate(-90)" font-size="2.65" text-anchor="end" fill="#5a5a5a" stroke="#5a5a5a" stroke-width="0.12" textLength="8.9" lengthAdjust="spacingAndGlyphs">ACT</text>
<text transform="translate(43.57,303.35) rotate(-90)" font-size="2.65" text-anchor="end" fill="#5a5a5a" stroke="#5a5a5a" stroke-width="0.12" textLength="8.9" lengthAdjust="spacingAndGlyphs">CCA</text>
<text transform="translate(47.20,303.35) rotate(-90)" font-size="2.65" text-anchor="end" fill="#5a5a5a" stroke="#5a5a5a" stroke-width="0.12" textLength="8.9" lengthAdjust="spacingAndGlyphs">CCC</text>
<text transform="translate(50.83,303.35) rotate(-90)" font-size="2.65" text-anchor="end" fill="#5a5a5a" stroke="#5a5a5a" stroke-width="0.12" textLength="8.9" lengthAdjust="spacingAndGlyphs">CCG</text>
<text transform="translate(54.46,303.35) rotate(-90)" font-size="2.65" text-anchor="end" fill="#5a5a5a" stroke="#5a5a5a" stroke-width="0.12" textLength="8.9" lengthAdjust="spacingAndGlyphs">CCT</text>
<text transform="translate(58.09,303.35) rotate(-90)" font-size="2.65" text-anchor="end" fill="#5a5a5a" stroke="#5a5a5a" stroke-width="0.12" textLength="8.9" lengthAdjust="spacingAndGlyphs">GCA</text>
<text transform="translate(61.72,303.35) rotate(-90)" font-size="2.65" text-anchor="end" fill="#5a5a5a" stroke="#5a5a5a" stroke-width="0.12" textLength="8.9" lengthAdjust="spacingAndGlyphs">GCC</text>
<text transform="translate(65.35,303.35) rotate(-90)" font-size="2.65" text-anchor="end" fill="#5a5a5a" stroke="#5a5a5a" stroke-width="0.12" textLength="8.9" lengthAdjust="spacingAndGlyphs">GCG</text>
<text transform="translate(68.98,303.35) rotate(-90)" font-size="2.65" text-anchor="end" fill="#5a5a5a" stroke="#5a5a5a" stroke-width="0.12" textLength="8.9" lengthAdjust="spacingAndGlyphs">GCT</text>
<text transform="translate(72.61,303.35) rotate(-90)" font-size="2.65" text-anchor="end" fill="#5a5a5a" stroke="#5a5a5a" stroke-width="0.12" textLength="8.9" lengthAdjust="spacingAndGlyphs">TCA</text>
<text transform="translate(76.24,303.35) rotate(-90)" font-size="2.65" text-anchor="end" fill="#5a5a5a" stroke="#5a5a5a" stroke-width="0.12" textLength="8.9" lengthAdjust="spacingAndGlyphs">TCC</text>
<text transform="translate(79.87,303.35) rotate(-90)" font-size="2.65" text-anchor="end" fill="#5a5a5a" stroke="#5a5a5a" stroke-width="0.12" textLength="8.9" lengthAdjust="spacingAndGlyphs">TCG</text>
<text transform="translate(83.50,303.35) rotate(-90)" font-size="2.65" text-anchor="end" fill="#5a5a5a" stroke="#5a5a5a" stroke-width="0.12" textLength="8.9" lengthAdjust="spacingAndGlyphs">TCT</text>
<text transform="translate(87.13,303.35) rotate(-90)" font-size="2.65" text-anchor="end" fill="#5a5a5a" stroke="#5a5a5a" stroke-width="0.12" textLength="8.9" lengthAdjust="spacingAndGlyphs">ACA</text>
<text transform="translate(90.76,303.35) rotate(-90)" font-size="2.65" text-anchor="end" fill="#5a5a5a" stroke="#5a5a5a" stroke-width="0.12" textLength="8.9" lengthAdjust="spacingAndGlyphs">ACC</text>
<text transform="translate(94.39,303.35) rotate(-90)" font-size="2.65" text-anchor="end" fill="#5a5a5a" stroke="#5a5a5a" stroke-width="0.12" textLength="8.9" lengthAdjust="spacingAndGlyphs">ACG</text>
<text transform="translate(98.02,303.35) rotate(-90)" font-size="2.65" text-anchor="end" fill="#5a5a5a" stroke="#5a5a5a" stroke-width="0.12" textLength="8.9" lengthAdjust="spacingAndGlyphs">ACT</text>
<text transform="translate(101.65,303.35) rotate(-90)" font-size="2.65" text-anchor="end" fill="#5a5a5a" stroke="#5a5a5a" stroke-width="0.12" textLength="8.9" lengthAdjust="spacingAndGlyphs">CCA</text>
<text transform="translate(105.28,303.35) rotate(-90)" font-size="2.65" text-anchor="end" fill="#5a5a5a" stroke="#5a5a5a" stroke-width="0.12" textLength="8.9" lengthAdjust="spacingAndGlyphs">CCC</text>
<text transform="translate(108.91,303.35) rotate(-90)" font-size="2.65" text-anchor="end" fill="#5a5a5a" stroke="#5a5a5a" stroke-width="0.12" textLength="8.9" lengthAdjust="spacingAndGlyphs">CCG</text>
<text transform="translate(112.54,303.35) rotate(-90)" font-size="2.65" text-anchor="end" fill="#5a5a5a" stroke="#5a5a5a" stroke-width="0.12" textLength="8.9" lengthAdjust="spacingAndGlyphs">CCT</text>
<text transform="translate(116.17,303.35) rotate(-90)" font-size="2.65" text-anchor="end" fill="#5a5a5a" stroke="#5a5a5a" stroke-width="0.12" textLength="8.9" lengthAdjust="spacingAndGlyphs">GCA</text>
<text transform="translate(119.80,303.35) rotate(-90)" font-size="2.65" text-anchor="end" fill="#5a5a5a" stroke="#5a5a5a" stroke-width="0.12" textLength="8.9" lengthAdjust="spacingAndGlyphs">GCC</text>
<text transform="translate(123.43,303.35) rotate(-90)" font-size="2.65" text-anchor="end" fill="#5a5a5a" stroke="#5a5a5a" stroke-width="0.12" textLength="8.9" lengthAdjust="spacingAndGlyphs">GCG</text>
<text transform="translate(127.06,303.35) rotate(-90)" font-size="2.65" text-anchor="end" fill="#5a5a5a" stroke="#5a5a5a" stroke-width="0.12" textLength="8.9" lengthAdjust="spacingAndGlyphs">GCT</text>
<text transform="translate(130.69,303.35) rotate(-90)" font-size="2.65" text-anchor="end" fill="#5a5a5a" stroke="#5a5a5a" stroke-width="0.12" textLength="8.9" lengthAdjust="spacingAndGlyphs">TCA</text>
<text transform="translate(134.32,303.35) rotate(-90)" font-size="2.65" text-anchor="end" fill="#5a5a5a" stroke="#5a5a5a" stroke-width="0.12" textLength="8.9" lengthAdjust="spacingAndGlyphs">TCC</text>
<text transform="translate(137.95,303.35) rotate(-90)" font-size="2.65" text-anchor="end" fill="#5a5a5a" stroke="#5a5a5a" stroke-width="0.12" textLength="8.9" lengthAdjust="spacingAndGlyphs">TCG</text>
<text transform="translate(141.58,303.35) rotate(-90)" font-size="2.65" text-anchor="end" fill="#5a5a5a" stroke="#5a5a5a" stroke-width="0.12" textLength="8.9" lengthAdjust="spacingAndGlyphs">TCT</text>
<text transform="translate(145.21,303.35) rotate(-90)" font-size="2.65" text-anchor="end" fill="#5a5a5a" stroke="#5a5a5a" stroke-width="0.12" textLength="8.9" lengthAdjust="spacingAndGlyphs">ACA</text>
<text transform="translate(148.84,303.35) rotate(-90)" font-size="2.65" text-anchor="end" fill="#5a5a5a" stroke="#5a5a5a" stroke-width="0.12" textLength="8.9" lengthAdjust="spacingAndGlyphs">ACC</text>
<text transform="translate(152.47,303.35) rotate(-90)" font-size="2.65" text-anchor="end" fill="#5a5a5a" stroke="#5a5a5a" stroke-width="0.12" textLength="8.9" lengthAdjust="spacingAndGlyphs">ACG</text>
<text transform="translate(156.10,303.35) rotate(-90)" font-size="2.65" text-anchor="end" fill="#5a5a5a" stroke="#5a5a5a" stroke-width="0.12" textLength="8.9" lengthAdjust="spacingAndGlyphs">ACT</text>
<text transform="translate(159.73,303.35) rotate(-90)" font-size="2.65" text-anchor="end" fill="#5a5a5a" stroke="#5a5a5a" stroke-width="0.12" textLength="8.9" lengthAdjust="spacingAndGlyphs">CCA</text>
<text transform="translate(163.36,303.35) rotate(-90)" font-size="2.65" text-anchor="end" fill="#5a5a5a" stroke="#5a5a5a" stroke-width="0.12" textLength="8.9" lengthAdjust="spacingAndGlyphs">CCC</text>
<text transform="translate(166.99,303.35) rotate(-90)" font-size="2.65" text-anchor="end" fill="#5a5a5a" stroke="#5a5a5a" stroke-width="0.12" textLength="8.9" lengthAdjust="spacingAndGlyphs">CCG</text>
<text transform="translate(170.62,303.35) rotate(-90)" font-size="2.65" text-anchor="end" fill="#5a5a5a" stroke="#5a5a5a" stroke-width="0.12" textLength="8.9" lengthAdjust="spacingAndGlyphs">CCT</text>
<text transform="translate(174.25,303.35) rotate(-90)" font-size="2.65" text-anchor="end" fill="#5a5a5a" stroke="#5a5a5a" stroke-width="0.12" textLength="8.9" lengthAdjust="spacingAndGlyphs">GCA</text>
<text transform="translate(177.88,303.35) rotate(-90)" font-size="2.65" text-anchor="end" fill="#5a5a5a" stroke="#5a5a5a" stroke-width="0.12" textLength="8.9" lengthAdjust="spacingAndGlyphs">GCC</text>
<text transform="translate(181.51,303.35) rotate(-90)" font-size="2.65" text-anchor="end" fill="#5a5a5a" stroke="#5a5a5a" stroke-width="0.12" textLength="8.9" lengthAdjust="spacingAndGlyphs">GCG</text>
<text transform="translate(185.14,303.35) rotate(-90)" font-size="2.65" text-anchor="end" fill="#5a5a5a" stroke="#5a5a5a" stroke-width="0.12" textLength="8.9" lengthAdjust="spacingAndGlyphs">GCT</text>
<text transform="translate(188.77,303.35) rotate(-90)" font-size="2.65" text-anchor="end" fill="#5a5a5a" stroke="#5a5a5a" stroke-width="0.12" textLength="8.9" lengthAdjust="spacingAndGlyphs">TCA</text>
<text transform="translate(192.40,303.35) rotate(-90)" font-size="2.65" text-anchor="end" fill="#5a5a5a" stroke="#5a5a5a" stroke-width="0.12" textLength="8.9" lengthAdjust="spacingAndGlyphs">TCC</text>
<text transform="translate(196.03,303.35) rotate(-90)" font-size="2.65" text-anchor="end" fill="#5a5a5a" stroke="#5a5a5a" stroke-width="0.12" textLength="8.9" lengthAdjust="spacingAndGlyphs">TCG</text>
<text transform="translate(199.66,303.35) rotate(-90)" font-size="2.65" text-anchor="end" fill="#5a5a5a" stroke="#5a5a5a" stroke-width="0.12" textLength="8.9" lengthAdjust="spacingAndGlyphs">TCT</text>
<text transform="translate(203.29,303.35) rotate(-90)" font-size="2.65" text-anchor="end" fill="#5a5a5a" stroke="#5a5a5a" stroke-width="0.12" textLength="8.9" lengthAdjust="spacingAndGlyphs">ATA</text>
<text transform="translate(206.92,303.35) rotate(-90)" font-size="2.65" text-anchor="end" fill="#5a5a5a" stroke="#5a5a5a" stroke-width="0.12" textLength="8.9" lengthAdjust="spacingAndGlyphs">ATC</text>
<text transform="translate(210.55,303.35) rotate(-90)" font-size="2.65" text-anchor="end" fill="#5a5a5a" stroke="#5a5a5a" stroke-width="0.12" textLength="8.9" lengthAdjust="spacingAndGlyphs">ATG</text>
<text transform="translate(214.18,303.35) rotate(-90)" font-size="2.65" text-anchor="end" fill="#5a5a5a" stroke="#5a5a5a" stroke-width="0.12" textLength="8.9" lengthAdjust="spacingAndGlyphs">ATT</text>
<text transform="translate(217.81,303.35) rotate(-90)" font-size="2.65" text-anchor="end" fill="#5a5a5a" stroke="#5a5a5a" stroke-width="0.12" textLength="8.9" lengthAdjust="spacingAndGlyphs">CTA</text>
<text transform="translate(221.44,303.35) rotate(-90)" font-size="2.65" text-anchor="end" fill="#5a5a5a" stroke="#5a5a5a" stroke-width="0.12" textLength="8.9" lengthAdjust="spacingAndGlyphs">CTC</text>
<text transform="translate(225.07,303.35) rotate(-90)" font-size="2.65" text-anchor="end" fill="#5a5a5a" stroke="#5a5a5a" stroke-width="0.12" textLength="8.9" lengthAdjust="spacingAndGlyphs">CTG</text>
<text transform="translate(228.70,303.35) rotate(-90)" font-size="2.65" text-anchor="end" fill="#5a5a5a" stroke="#5a5a5a" stroke-width="0.12" textLength="8.9" lengthAdjust="spacingAndGlyphs">CTT</text>
<text transform="translate(232.33,303.35) rotate(-90)" font-size="2.65" text-anchor="end" fill="#5a5a5a" stroke="#5a5a5a" stroke-width="0.12" textLength="8.9" lengthAdjust="spacingAndGlyphs">GTA</text>
<text transform="translate(235.96,303.35) rotate(-90)" font-size="2.65" text-anchor="end" fill="#5a5a5a" stroke="#5a5a5a" stroke-width="0.12" textLength="8.9" lengthAdjust="spacingAndGlyphs">GTC</text>
<text transform="translate(239.59,303.35) rotate(-90)" font-size="2.65" text-anchor="end" fill="#5a5a5a" stroke="#5a5a5a" stroke-width="0.12" textLength="8.9" lengthAdjust="spacingAndGlyphs">GTG</text>
<text transform="translate(243.22,303.35) rotate(-90)" font-size="2.65" text-anchor="end" fill="#5a5a5a" stroke="#5a5a5a" stroke-width="0.12" textLength="8.9" lengthAdjust="spacingAndGlyphs">GTT</text>
<text transform="translate(246.85,303.35) rotate(-90)" font-size="2.65" text-anchor="end" fill="#5a5a5a" stroke="#5a5a5a" stroke-width="0.12" textLength="8.9" lengthAdjust="spacingAndGlyphs">TTA</text>
<text transform="translate(250.48,303.35) rotate(-90)" font-size="2.65" text-anchor="end" fill="#5a5a5a" stroke="#5a5a5a" stroke-width="0.12" textLength="8.9" lengthAdjust="spacingAndGlyphs">TTC</text>
<text transform="translate(254.11,303.35) rotate(-90)" font-size="2.65" text-anchor="end" fill="#5a5a5a" stroke="#5a5a5a" stroke-width="0.12" textLength="8.9" lengthAdjust="spacingAndGlyphs">TTG</text>
<text transform="translate(257.74,303.35) rotate(-90)" font-size="2.65" text-anchor="end" fill="#5a5a5a" stroke="#5a5a5a" stroke-width="0.12" textLength="8.9" lengthAdjust="spacingAndGlyphs">TTT</text>
<text transform="translate(261.37,303.35) rotate(-90)" font-size="2.65" text-anchor="end" fill="#5a5a5a" stroke="#5a5a5a" stroke-width="0.12" textLength="8.9" lengthAdjust="spacingAndGlyphs">ATA</text>
<text transform="translate(265.00,303.35) rotate(-90)" font-size="2.65" text-anchor="end" fill="#5a5a5a" stroke="#5a5a5a" stroke-width="0.12" textLength="8.9" lengthAdjust="spacingAndGlyphs">ATC</text>
<text transform="translate(268.63,303.35) rotate(-90)" font-size="2.65" text-anchor="end" fill="#5a5a5a" stroke="#5a5a5a" stroke-width="0.12" textLength="8.9" lengthAdjust="spacingAndGlyphs">ATG</text>
<text transform="translate(272.26,303.35) rotate(-90)" font-size="2.65" text-anchor="end" fill="#5a5a5a" stroke="#5a5a5a" stroke-width="0.12" textLength="8.9" lengthAdjust="spacingAndGlyphs">ATT</text>
<text transform="translate(275.89,303.35) rotate(-90)" font-size="2.65" text-anchor="end" fill="#5a5a5a" stroke="#5a5a5a" stroke-width="0.12" textLength="8.9" lengthAdjust="spacingAndGlyphs">CTA</text>
<text transform="translate(279.52,303.35) rotate(-90)" font-size="2.65" text-anchor="end" fill="#5a5a5a" stroke="#5a5a5a" stroke-width="0.12" textLength="8.9" lengthAdjust="spacingAndGlyphs">CTC</text>
<text transform="translate(283.15,303.35) rotate(-90)" font-size="2.65" text-anchor="end" fill="#5a5a5a" stroke="#5a5a5a" stroke-width="0.12" textLength="8.9" lengthAdjust="spacingAndGlyphs">CTG</text>
<text transform="translate(286.78,303.35) rotate(-90)" font-size="2.65" text-anchor="end" fill="#5a5a5a" stroke="#5a5a5a" stroke-width="0.12" textLength="8.9" lengthAdjust="spacingAndGlyphs">CTT</text>
<text transform="translate(290.41,303.35) rotate(-90)" font-size="2.65" text-anchor="end" fill="#5a5a5a" stroke="#5a5a5a" stroke-width="0.12" textLength="8.9" lengthAdjust="spacingAndGlyphs">GTA</text>
<text transform="translate(294.04,303.35) rotate(-90)" font-size="2.65" text-anchor="end" fill="#5a5a5a" stroke="#5a5a5a" stroke-width="0.12" textLength="8.9" lengthAdjust="spacingAndGlyphs">GTC</text>
<text transform="translate(297.67,303.35) rotate(-90)" font-size="2.65" text-anchor="end" fill="#5a5a5a" stroke="#5a5a5a" stroke-width="0.12" textLength="8.9" lengthAdjust="spacingAndGlyphs">GTG</text>
<text transform="translate(301.30,303.35) rotate(-90)" font-size="2.65" text-anchor="end" fill="#5a5a5a" stroke="#5a5a5a" stroke-width="0.12" textLength="8.9" lengthAdjust="spacingAndGlyphs">GTT</text>
<text transform="translate(304.93,303.35) rotate(-90)" font-size="2.65" text-anchor="end" fill="#5a5a5a" stroke="#5a5a5a" stroke-width="0.12" textLength="8.9" lengthAdjust="spacingAndGlyphs">TTA</text>
<text transform="translate(308.56,303.35) rotate(-90)" font-size="2.65" text-anchor="end" fill="#5a5a5a" stroke="#5a5a5a" stroke-width="0.12" textLength="8.9" lengthAdjust="spacingAndGlyphs">TTC</text>
<text transform="translate(312.19,303.35) rotate(-90)" font-size="2.65" text-anchor="end" fill="#5a5a5a" stroke="#5a5a5a" stroke-width="0.12" textLength="8.9" lengthAdjust="spacingAndGlyphs">TTG</text>
<text transform="translate(315.82,303.35) rotate(-90)" font-size="2.65" text-anchor="end" fill="#5a5a5a" stroke="#5a5a5a" stroke-width="0.12" textLength="8.9" lengthAdjust="spacingAndGlyphs">TTT</text>
<text transform="translate(319.45,303.35) rotate(-90)" font-size="2.65" text-anchor="end" fill="#5a5a5a" stroke="#5a5a5a" stroke-width="0.12" textLength="8.9" lengthAdjust="spacingAndGlyphs">ATA</text>
<text transform="translate(323.08,303.35) rotate(-90)" font-size="2.65" text-anchor="end" fill="#5a5a5a" stroke="#5a5a5a" stroke-width="0.12" textLength="8.9" lengthAdjust="spacingAndGlyphs">ATC</text>
<text transform="translate(326.71,303.35) rotate(-90)" font-size="2.65" text-anchor="end" fill="#5a5a5a" stroke="#5a5a5a" stroke-width="0.12" textLength="8.9" lengthAdjust="spacingAndGlyphs">ATG</text>
<text transform="translate(330.34,303.35) rotate(-90)" font-size="2.65" text-anchor="end" fill="#5a5a5a" stroke="#5a5a5a" stroke-width="0.12" textLength="8.9" lengthAdjust="spacingAndGlyphs">ATT</text>
<text transform="translate(333.97,303.35) rotate(-90)" font-size="2.65" text-anchor="end" fill="#5a5a5a" stroke="#5a5a5a" stroke-width="0.12" textLength="8.9" lengthAdjust="spacingAndGlyphs">CTA</text>
<text transform="translate(337.60,303.35) rotate(-90)" font-size="2.65" text-anchor="end" fill="#5a5a5a" stroke="#5a5a5a" stroke-width="0.12" textLength="8.9" lengthAdjust="spacingAndGlyphs">CTC</text>
<text transform="translate(341.23,303.35) rotate(-90)" font-size="2.65" text-anchor="end" fill="#5a5a5a" stroke="#5a5a5a" stroke-width="0.12" textLength="8.9" lengthAdjust="spacingAndGlyphs">CTG</text>
<text transform="translate(344.86,303.35) rotate(-90)" font-size="2.65" text-anchor="end" fill="#5a5a5a" stroke="#5a5a5a" stroke-width="0.12" textLength="8.9" lengthAdjust="spacingAndGlyphs">CTT</text>
<text transform="translate(348.49,303.35) rotate(-90)" font-size="2.65" text-anchor="end" fill="#5a5a5a" stroke="#5a5a5a" stroke-width="0.12" textLength="8.9" lengthAdjust="spacingAndGlyphs">GTA</text>
<text transform="translate(352.12,303.35) rotate(-90)" font-size="2.65" text-anchor="end" fill="#5a5a5a" stroke="#5a5a5a" stroke-width="0.12" textLength="8.9" lengthAdjust="spacingAndGlyphs">GTC</text>
<text transform="translate(355.75,303.35) rotate(-90)" font-size="2.65" text-anchor="end" fill="#5a5a5a" stroke="#5a5a5a" stroke-width="0.12" textLength="8.9" lengthAdjust="spacingAndGlyphs">GTG</text>
<text transform="translate(359.38,303.35) rotate(-90)" font-size="2.65" text-anchor="end" fill="#5a5a5a" stroke="#5a5a5a" stroke-width="0.12" textLength="8.9" lengthAdjust="spacingAndGlyphs">GTT</text>
<text transform="translate(363.01,303.35) rotate(-90)" font-size="2.65" text-anchor="end" fill="#5a5a5a" stroke="#5a5a5a" stroke-width="0.12" textLength="8.9" lengthAdjust="spacingAndGlyphs">TTA</text>
<text transform="translate(366.64,303.35) rotate(-90)" font-size="2.65" text-anchor="end" fill="#5a5a5a" stroke="#5a5a5a" stroke-width="0.12" textLength="8.9" lengthAdjust="spacingAndGlyphs">TTC</text>
<text transform="translate(370.27,303.35) rotate(-90)" font-size="2.65" text-anchor="end" fill="#5a5a5a" stroke="#5a5a5a" stroke-width="0.12" textLength="8.9" lengthAdjust="spacingAndGlyphs">TTG</text>
<text transform="translate(373.90,303.35) rotate(-90)" font-size="2.65" text-anchor="end" fill="#5a5a5a" stroke="#5a5a5a" stroke-width="0.12" textLength="8.9" lengthAdjust="spacingAndGlyphs">TTT</text>
<text transform="translate(46.95,320.25) scale(1.020,1)" font-size="7.60" fill="#1a1a1a"  stroke="#1a1a1a" stroke-width="0.2">C&gt;A</text>
<text transform="translate(104.02,320.25) scale(1.020,1)" font-size="7.60" fill="#1a1a1a"  stroke="#1a1a1a" stroke-width="0.2">C&gt;G</text>
<text transform="translate(163.87,320.25) scale(1.020,1)" font-size="7.60" fill="#1a1a1a"  stroke="#1a1a1a" stroke-width="0.2">C&gt;T</text>
<text transform="translate(223.78,320.21) scale(1.020,1)" font-size="7.60" fill="#1a1a1a"  stroke="#1a1a1a" stroke-width="0.2">T&gt;A</text>
<text transform="translate(280.47,320.25) scale(1.020,1)" font-size="7.60" fill="#1a1a1a"  stroke="#1a1a1a" stroke-width="0.2">T&gt;C</text>
<text transform="translate(337.45,320.25) scale(1.020,1)" font-size="7.60" fill="#1a1a1a"  stroke="#1a1a1a" stroke-width="0.2">T&gt;G</text>
<rect x="109.90" y="327.20" width="4.40" height="4.30" fill="#1f3f66" />
<text transform="translate(117.80,331.75) scale(1.000,1)" font-size="7.60" fill="#1a1a1a"  stroke="#1a1a1a" stroke-width="0.2">C&gt;A</text>
<rect x="142.70" y="327.20" width="4.40" height="4.30" fill="#b01830" />
<text transform="translate(150.60,331.75) scale(1.000,1)" font-size="7.60" fill="#1a1a1a"  stroke="#1a1a1a" stroke-width="0.2">C&gt;G</text>
<rect x="175.90" y="327.20" width="4.40" height="4.30" fill="#4cb050" />
<text transform="translate(183.80,331.75) scale(1.000,1)" font-size="7.60" fill="#1a1a1a"  stroke="#1a1a1a" stroke-width="0.2">C&gt;T</text>
<rect x="207.40" y="327.20" width="4.40" height="4.30" fill="#4a2060" />
<text transform="translate(215.30,331.71) scale(1.000,1)" font-size="7.60" fill="#1a1a1a"  stroke="#1a1a1a" stroke-width="0.2">T&gt;A</text>
<rect x="237.00" y="327.20" width="4.40" height="4.30" fill="#40a8dc" />
<text transform="translate(244.90,331.75) scale(1.000,1)" font-size="7.60" fill="#1a1a1a"  stroke="#1a1a1a" stroke-width="0.2">T&gt;C</text>
<rect x="268.70" y="327.20" width="4.40" height="4.30" fill="#f0a030" />
<text transform="translate(276.60,331.75) scale(1.000,1)" font-size="7.60" fill="#1a1a1a"  stroke="#1a1a1a" stroke-width="0.2">T&gt;G</text>
<text transform="translate(444.50,129.80) scale(0.956,1)" font-size="9.38" fill="#1a1a1a"  stroke="#1a1a1a" stroke-width="0.2">Cosine similarity</text>
<defs><linearGradient id="cosg" x1="0" x2="1" y1="0" y2="0"><stop offset="0" stop-color="#ececec"/><stop offset="0.15" stop-color="#b6dcb0"/><stop offset="0.30" stop-color="#4eb354"/><stop offset="0.50" stop-color="#92cc5a"/><stop offset="0.66" stop-color="#e8e054"/><stop offset="0.82" stop-color="#f2b060"/><stop offset="1" stop-color="#ee6f70"/></linearGradient></defs>
<rect x="440.00" y="136.20" width="73.30" height="7.00" fill="url(#cosg)" />
<text transform="translate(436.57,153.95) scale(1.050,1)" font-size="7.30" fill="#1a1a1a"  stroke="#1a1a1a" stroke-width="0.2">0.2</text>
<text transform="translate(455.07,153.95) scale(1.050,1)" font-size="7.30" fill="#1a1a1a"  stroke="#1a1a1a" stroke-width="0.2">0.4</text>
<text transform="translate(474.87,153.95) scale(1.050,1)" font-size="7.30" fill="#1a1a1a"  stroke="#1a1a1a" stroke-width="0.2">0.6</text>
<text transform="translate(493.87,153.95) scale(1.050,1)" font-size="7.30" fill="#1a1a1a"  stroke="#1a1a1a" stroke-width="0.2">0.8</text>
<rect x="434.50" y="159.30" width="83.50" height="149.90" fill="#ebebeb" />
<rect x="438.00" y="160.40" width="38.80" height="21.02" fill="#ea717a" />
<rect x="476.80" y="160.40" width="39.00" height="21.02" fill="#7cc47a" />
<text transform="translate(447.17,173.95) scale(1.120,1)" font-size="7.30" fill="#3c0c16"  stroke="#3c0c16" stroke-width="0.2">0.947</text>
<text transform="translate(486.07,173.95) scale(1.120,1)" font-size="7.30" fill="#10300f"  stroke="#10300f" stroke-width="0.2">0.398</text>
<line x1="430.80" y1="170.80" x2="433.80" y2="170.80" stroke="#1a1a1a" stroke-width="1.0" />
<text transform="translate(408.37,173.31) scale(0.980,1)" font-size="7.30" fill="#1a1a1a"  stroke="#1a1a1a" stroke-width="0.2">Ye K1</text>
<rect x="438.00" y="181.37" width="38.80" height="21.02" fill="#f2b066" />
<rect x="476.80" y="181.37" width="39.00" height="21.02" fill="#a9d46a" />
<text transform="translate(449.44,194.97) scale(1.120,1)" font-size="7.30" fill="#3a2606"  stroke="#3a2606" stroke-width="0.2">0.79</text>
<text transform="translate(488.34,194.97) scale(1.120,1)" font-size="7.30" fill="#1e3208"  stroke="#1e3208" stroke-width="0.2">0.56</text>
<line x1="430.80" y1="191.93" x2="433.80" y2="191.93" stroke="#1a1a1a" stroke-width="1.0" />
<text transform="translate(386.65,194.58) scale(0.980,1)" font-size="7.30" fill="#1a1a1a"  stroke="#1a1a1a" stroke-width="0.2">Alkodsi RCH</text>
<rect x="438.00" y="202.34" width="38.80" height="21.02" fill="#d5e062" />
<rect x="476.80" y="202.34" width="39.00" height="21.02" fill="#f0da64" />
<text transform="translate(447.17,215.99) scale(1.120,1)" font-size="7.30" fill="#28320a"  stroke="#28320a" stroke-width="0.2">0.647</text>
<text transform="translate(488.34,215.99) scale(1.120,1)" font-size="7.30" fill="#383008"  stroke="#383008" stroke-width="0.2">0.73</text>
<line x1="430.80" y1="213.06" x2="433.80" y2="213.06" stroke="#1a1a1a" stroke-width="1.0" />
<text transform="translate(398.17,215.71) scale(0.980,1)" font-size="7.30" fill="#1a1a1a"  stroke="#1a1a1a" stroke-width="0.2">Alkodsi 5</text>
<rect x="438.00" y="223.31" width="38.80" height="21.02" fill="#91cc92" />
<rect x="476.80" y="223.31" width="39.00" height="21.02" fill="#7cc37e" />
<text transform="translate(447.17,237.01) scale(1.120,1)" font-size="7.30" fill="#10300f"  stroke="#10300f" stroke-width="0.2">0.335</text>
<text transform="translate(486.07,237.01) scale(1.120,1)" font-size="7.30" fill="#10300f"  stroke="#10300f" stroke-width="0.2">0.381</text>
<line x1="430.80" y1="234.19" x2="433.80" y2="234.19" stroke="#1a1a1a" stroke-width="1.0" />
<text transform="translate(394.19,236.84) scale(0.980,1)" font-size="7.30" fill="#1a1a1a"  stroke="#1a1a1a" stroke-width="0.2">Alkodsi 17</text>
<rect x="438.00" y="244.28" width="38.80" height="21.02" fill="#e3e6e2" />
<rect x="476.80" y="244.28" width="39.00" height="21.02" fill="#8ccb8c" />
<text transform="translate(447.17,258.03) scale(1.120,1)" font-size="7.30" fill="#222222"  stroke="#222222" stroke-width="0.2">0.222</text>
<text transform="translate(486.07,258.03) scale(1.120,1)" font-size="7.30" fill="#10300f"  stroke="#10300f" stroke-width="0.2">0.345</text>
<line x1="430.80" y1="255.32" x2="433.80" y2="255.32" stroke="#1a1a1a" stroke-width="1.0" />
<text transform="translate(408.37,257.87) scale(0.980,1)" font-size="7.30" fill="#1a1a1a"  stroke="#1a1a1a" stroke-width="0.2">Ye K2</text>
<rect x="438.00" y="265.25" width="38.80" height="21.02" fill="#e6e6e6" />
<rect x="476.80" y="265.25" width="39.00" height="21.02" fill="#b3dab1" />
<text transform="translate(447.17,279.05) scale(1.120,1)" font-size="7.30" fill="#222222"  stroke="#222222" stroke-width="0.2">0.205</text>
<text transform="translate(486.07,279.05) scale(1.120,1)" font-size="7.30" fill="#142e14"  stroke="#142e14" stroke-width="0.2">0.291</text>
<line x1="430.80" y1="276.45" x2="433.80" y2="276.45" stroke="#1a1a1a" stroke-width="1.0" />
<text transform="translate(391.16,279.10) scale(0.980,1)" font-size="7.30" fill="#1a1a1a"  stroke="#1a1a1a" stroke-width="0.2">Alkodsi TW</text>
<rect x="438.00" y="286.22" width="38.80" height="21.02" fill="#e8e8e8" />
<rect x="476.80" y="286.22" width="39.00" height="21.02" fill="#96d095" />
<text transform="translate(447.17,300.07) scale(1.120,1)" font-size="7.30" fill="#222222"  stroke="#222222" stroke-width="0.2">0.192</text>
<text transform="translate(486.07,300.07) scale(1.120,1)" font-size="7.30" fill="#10300f"  stroke="#10300f" stroke-width="0.2">0.328</text>
<line x1="430.80" y1="297.58" x2="433.80" y2="297.58" stroke="#1a1a1a" stroke-width="1.0" />
<text transform="translate(380.15,300.13) scale(0.980,1)" font-size="7.30" fill="#1a1a1a"  stroke="#1a1a1a" stroke-width="0.2">Ye K-APOBEC</text>
<line x1="457.40" y1="309.60" x2="457.40" y2="312.40" stroke="#1a1a1a" stroke-width="1.0" />
<line x1="496.30" y1="309.60" x2="496.30" y2="312.40" stroke="#1a1a1a" stroke-width="1.0" />
<text transform="translate(447.50,321.90) scale(0.975,1)" font-size="7.31" fill="#1a1a1a"  stroke="#1a1a1a" stroke-width="0.2">aSHM</text>
<text transform="translate(479.70,321.90) scale(0.951,1)" font-size="7.31" fill="#1a1a1a"  stroke="#1a1a1a" stroke-width="0.2">non-aSHM</text>
<text transform="translate(451.60,332.50) scale(0.985,1)" font-size="8.14" fill="#1a1a1a"  stroke="#1a1a1a" stroke-width="0.2">HMRN targets</text>
<text transform="translate(1.00,352.20) scale(0.792,1)" font-size="11.89" fill="#000" font-weight="bold" stroke="#000" stroke-width="0.4">C</text>
<rect x="55.75" y="351.90" width="198.20" height="11.60" fill="#e0506d" />
<rect x="256.20" y="351.90" width="60.50" height="11.60" fill="#66ba46" />
<rect x="319.20" y="351.90" width="29.80" height="11.60" fill="#3b8fdb" />
<text transform="translate(146.00,360.30) scale(0.963,1)" font-size="8.31" fill="#6a0c26"  stroke="#6a0c26" stroke-width="0.2">Com</text>
<text transform="translate(274.00,360.50) scale(0.986,1)" font-size="8.45" fill="#0f2a08"  stroke="#0f2a08" stroke-width="0.2">STAT6</text>
<text transform="translate(323.30,360.50) scale(0.933,1)" font-size="8.45" fill="#0c2548"  stroke="#0c2548" stroke-width="0.2">aSHM</text>
<rect x="55.75" y="363.80" width="198.40" height="236.40" fill="#edeaec" />
<rect x="256.10" y="363.80" width="60.60" height="236.40" fill="#edeaec" />
<rect x="319.10" y="363.80" width="29.90" height="236.40" fill="#edeaec" />
<defs><linearGradient id="g1" x1="0" x2="1" y1="0" y2="0"><stop offset="0" stop-color="#bab444"/><stop offset="0.35" stop-color="#93b953"/><stop offset="1" stop-color="#6dbf6b"/></linearGradient></defs>
<defs><linearGradient id="g2a" x1="0" x2="1" y1="0" y2="0"><stop offset="0" stop-color="#b6b43e"/><stop offset="1" stop-color="#8fb84e"/></linearGradient></defs>
<defs><linearGradient id="g2b" x1="0" x2="1" y1="0" y2="0"><stop offset="0" stop-color="#80ba58"/><stop offset="0.5" stop-color="#6fbd62"/><stop offset="0.92" stop-color="#66be6a"/><stop offset="1" stop-color="#a8d6a4"/></linearGradient></defs>
<defs><linearGradient id="gs2" x1="0" x2="1" y1="0" y2="0"><stop offset="0" stop-color="#a8b446"/><stop offset="1" stop-color="#74b85e"/></linearGradient></defs>
<defs><linearGradient id="ga1" x1="0" x2="1" y1="0" y2="0"><stop offset="0" stop-color="#f0a01e"/><stop offset="0.12" stop-color="#d6aa30"/><stop offset="0.3" stop-color="#a9b246"/><stop offset="1" stop-color="#82b656"/></linearGradient></defs>
<rect x="55.75" y="364.30" width="1.25" height="28.55" fill="#efe6cf" />
<rect x="55.75" y="423.20" width="1.25" height="28.55" fill="#efe6cf" />
<rect x="55.75" y="452.65" width="1.25" height="28.55" fill="#efe6cf" />
<rect x="67.20" y="364.30" width="33.90" height="28.55" fill="url(#g1)" />
<rect x="55.75" y="393.75" width="11.05" height="28.55" fill="url(#g2a)" />
<rect x="82.00" y="393.75" width="2.80" height="28.55" fill="#6db862" />
<rect x="111.30" y="393.75" width="36.40" height="28.55" fill="url(#g2b)" />
<rect x="56.00" y="423.20" width="1.60" height="28.55" fill="#a8c87a" />
<rect x="80.10" y="423.20" width="1.80" height="28.55" fill="#6db862" />
<rect x="101.30" y="423.20" width="7.10" height="28.55" fill="#77bc60" />
<rect x="108.40" y="452.65" width="2.40" height="28.55" fill="#6db862" />
<rect x="57.00" y="482.10" width="1.50" height="28.55" fill="#82c282" />
<rect x="66.60" y="482.10" width="1.20" height="28.55" fill="#b9dbb9" />
<rect x="147.70" y="482.10" width="4.60" height="28.55" fill="#7dc47f" />
<rect x="57.00" y="511.55" width="1.50" height="28.55" fill="#b8dcb8" />
<rect x="66.60" y="511.55" width="1.20" height="28.55" fill="#d2e8d2" />
<rect x="147.70" y="511.55" width="4.60" height="28.55" fill="#bde0bd" />
<rect x="152.30" y="541.00" width="0.90" height="28.55" fill="#d8ecd8" />
<rect x="152.30" y="570.45" width="0.90" height="28.55" fill="#d8ecd8" />
<rect x="271.80" y="364.30" width="6.70" height="28.55" fill="#7bba5e" />
<rect x="256.20" y="393.75" width="13.50" height="28.55" fill="url(#gs2)" />
<rect x="256.20" y="423.20" width="0.90" height="28.55" fill="#ddd8a8" />
<rect x="279.00" y="423.20" width="0.90" height="28.55" fill="#a6c080" />
<rect x="280.80" y="423.20" width="1.00" height="28.55" fill="#a6c080" />
<rect x="269.50" y="452.65" width="1.50" height="28.55" fill="#72b862" />
<rect x="279.10" y="482.10" width="1.90" height="28.55" fill="#72c072" />
<rect x="279.10" y="511.55" width="1.90" height="28.55" fill="#b8dcb8" />
<rect x="319.10" y="364.30" width="19.50" height="28.55" fill="url(#ga1)" />
<rect x="327.00" y="393.75" width="1.00" height="28.55" fill="#a8b462" />
<rect x="340.50" y="393.75" width="1.00" height="28.55" fill="#a8b868" />
<rect x="322.20" y="423.20" width="0.70" height="28.55" fill="#d0dcc0" />
<rect x="339.50" y="423.20" width="0.90" height="28.55" fill="#b2c284" />
<rect x="339.50" y="452.65" width="1.20" height="28.55" fill="#d0e0c0" />
<rect x="319.10" y="482.10" width="1.10" height="28.55" fill="#72c072" />
<rect x="328.50" y="482.10" width="0.80" height="28.55" fill="#c4dec4" />
<rect x="341.60" y="482.10" width="1.40" height="28.55" fill="#72c072" />
<rect x="319.10" y="511.55" width="1.10" height="28.55" fill="#b0d8b0" />
<rect x="328.50" y="511.55" width="0.80" height="28.55" fill="#d2e6d2" />
<rect x="341.60" y="511.55" width="1.40" height="28.55" fill="#b8dcb8" />
<rect x="328.50" y="541.00" width="0.80" height="28.55" fill="#d2e6d2" />
<text transform="translate(18.28,381.94) scale(1.100,1)" font-size="7.00" fill="#1a1a1a"  stroke="#1a1a1a" stroke-width="0.2">RefSig 30</text>
<text transform="translate(22.57,411.48) scale(1.100,1)" font-size="7.00" fill="#1a1a1a"  stroke="#1a1a1a" stroke-width="0.2">RefSig 1</text>
<text transform="translate(4.18,441.02) scale(1.100,1)" font-size="7.00" fill="#1a1a1a"  stroke="#1a1a1a" stroke-width="0.2">RefSig MMR2</text>
<text transform="translate(22.57,470.56) scale(1.100,1)" font-size="7.00" fill="#1a1a1a"  stroke="#1a1a1a" stroke-width="0.2">RefSig 5</text>
<text transform="translate(22.57,500.10) scale(1.100,1)" font-size="7.00" fill="#1a1a1a"  stroke="#1a1a1a" stroke-width="0.2">RefSig 3</text>
<text transform="translate(18.28,529.64) scale(1.100,1)" font-size="7.00" fill="#1a1a1a"  stroke="#1a1a1a" stroke-width="0.2">RefSig 13</text>
<text transform="translate(17.01,559.18) scale(1.100,1)" font-size="7.00" fill="#1a1a1a"  stroke="#1a1a1a" stroke-width="0.2">RefSig N1</text>
<text transform="translate(22.57,588.72) scale(1.100,1)" font-size="7.00" fill="#1a1a1a"  stroke="#1a1a1a" stroke-width="0.2">RefSig 2</text>
<text transform="translate(367.40,358.80) scale(0.947,1)" font-size="8.45" fill="#1a1a1a"  stroke="#1a1a1a" stroke-width="0.2">Com</text>
<text transform="translate(411.00,358.80) scale(0.966,1)" font-size="8.45" fill="#1a1a1a"  stroke="#1a1a1a" stroke-width="0.2">STAT6</text>
<text transform="translate(458.70,358.80) scale(0.962,1)" font-size="8.45" fill="#1a1a1a"  stroke="#1a1a1a" stroke-width="0.2">aSHM</text>
<line x1="358.10" y1="369.90" x2="358.10" y2="387.50" stroke="#222" stroke-width="1.2" />
<line x1="405.40" y1="369.90" x2="405.40" y2="387.50" stroke="#222" stroke-width="1.2" />
<line x1="452.30" y1="369.90" x2="452.30" y2="387.50" stroke="#222" stroke-width="1.2" />
<line x1="358.10" y1="399.40" x2="358.10" y2="417.00" stroke="#222" stroke-width="1.2" />
<line x1="405.40" y1="399.40" x2="405.40" y2="417.00" stroke="#222" stroke-width="1.2" />
<line x1="452.30" y1="399.40" x2="452.30" y2="417.00" stroke="#222" stroke-width="1.2" />
<line x1="358.10" y1="428.90" x2="358.10" y2="446.50" stroke="#222" stroke-width="1.2" />
<line x1="405.40" y1="428.90" x2="405.40" y2="446.50" stroke="#222" stroke-width="1.2" />
<line x1="452.30" y1="428.90" x2="452.30" y2="446.50" stroke="#222" stroke-width="1.2" />
<line x1="358.10" y1="458.40" x2="358.10" y2="476.00" stroke="#222" stroke-width="1.2" />
<line x1="405.40" y1="458.40" x2="405.40" y2="476.00" stroke="#222" stroke-width="1.2" />
<line x1="452.30" y1="458.40" x2="452.30" y2="476.00" stroke="#222" stroke-width="1.2" />
<line x1="358.10" y1="487.90" x2="358.10" y2="505.50" stroke="#222" stroke-width="1.2" />
<line x1="405.40" y1="487.90" x2="405.40" y2="505.50" stroke="#222" stroke-width="1.2" />
<line x1="452.30" y1="487.90" x2="452.30" y2="505.50" stroke="#222" stroke-width="1.2" />
<line x1="358.10" y1="517.40" x2="358.10" y2="535.00" stroke="#222" stroke-width="1.2" />
<line x1="405.40" y1="517.40" x2="405.40" y2="535.00" stroke="#222" stroke-width="1.2" />
<line x1="452.30" y1="517.40" x2="452.30" y2="535.00" stroke="#222" stroke-width="1.2" />
<line x1="358.10" y1="546.90" x2="358.10" y2="564.50" stroke="#222" stroke-width="1.2" />
<line x1="405.40" y1="546.90" x2="405.40" y2="564.50" stroke="#222" stroke-width="1.2" />
<line x1="452.30" y1="546.90" x2="452.30" y2="564.50" stroke="#222" stroke-width="1.2" />
<line x1="358.10" y1="576.40" x2="358.10" y2="594.00" stroke="#222" stroke-width="1.2" />
<line x1="405.40" y1="576.40" x2="405.40" y2="594.00" stroke="#222" stroke-width="1.2" />
<line x1="452.30" y1="576.40" x2="452.30" y2="594.00" stroke="#222" stroke-width="1.2" />
<rect x="361.10" y="377.20" width="7.80" height="3.0" rx="1.5" fill="#d9415f" fill-opacity="0.55" stroke="#d9415f" stroke-width="0.6"/>
<circle cx="367.40" cy="378.70" r="1.3499999999999999" fill="none" stroke="#d9415f" stroke-width="0.5"/>
<circle cx="365.80" cy="378.70" r="1.3499999999999999" fill="none" stroke="#d9415f" stroke-width="0.5"/>
<rect x="360.30" y="406.70" width="9.40" height="3.0" rx="1.5" fill="#d9415f" fill-opacity="0.55" stroke="#d9415f" stroke-width="0.6"/>
<circle cx="368.20" cy="408.20" r="1.3499999999999999" fill="none" stroke="#d9415f" stroke-width="0.5"/>
<circle cx="366.60" cy="408.20" r="1.3499999999999999" fill="none" stroke="#d9415f" stroke-width="0.5"/>
<circle cx="371.60" cy="408.20" r="1.45" fill="none" stroke="#d9415f" stroke-width="0.6"/>
<circle cx="393.80" cy="408.20" r="1.45" fill="none" stroke="#d9415f" stroke-width="0.6"/>
<circle cx="359.90" cy="437.70" r="1.45" fill="none" stroke="#d9415f" stroke-width="0.6"/>
<circle cx="362.50" cy="437.70" r="1.45" fill="none" stroke="#d9415f" stroke-width="0.6"/>
<circle cx="365.20" cy="437.70" r="1.45" fill="none" stroke="#d9415f" stroke-width="0.6"/>
<circle cx="374.00" cy="437.70" r="1.45" fill="none" stroke="#d9415f" stroke-width="0.6"/>
<circle cx="363.00" cy="467.20" r="1.45" fill="none" stroke="#d9415f" stroke-width="0.6"/>
<circle cx="365.40" cy="467.20" r="1.45" fill="none" stroke="#d9415f" stroke-width="0.6"/>
<rect x="359.90" y="495.20" width="4.40" height="3.0" rx="1.5" fill="#d9415f" fill-opacity="0.55" stroke="#d9415f" stroke-width="0.6"/>
<circle cx="362.80" cy="496.70" r="1.3499999999999999" fill="none" stroke="#d9415f" stroke-width="0.5"/>
<circle cx="359.90" cy="526.20" r="1.45" fill="none" stroke="#d9415f" stroke-width="0.6"/>
<rect x="409.10" y="377.20" width="20.50" height="3.0" rx="1.5" fill="#5db848" fill-opacity="0.55" stroke="#5db848" stroke-width="0.6"/>
<circle cx="428.10" cy="378.70" r="1.3499999999999999" fill="none" stroke="#5db848" stroke-width="0.5"/>
<circle cx="426.50" cy="378.70" r="1.3499999999999999" fill="none" stroke="#5db848" stroke-width="0.5"/>
<circle cx="440.90" cy="378.70" r="1.45" fill="none" stroke="#5db848" stroke-width="0.6"/>
<rect x="405.3" y="399.40" width="5.3" height="17.6" fill="#5db848" stroke="#2a2a2a" stroke-width="0.7"/>
<rect x="416.50" y="406.70" width="14.20" height="3.0" rx="1.5" fill="#5db848" fill-opacity="0.55" stroke="#5db848" stroke-width="0.6"/>
<circle cx="429.20" cy="408.20" r="1.3499999999999999" fill="none" stroke="#5db848" stroke-width="0.5"/>
<circle cx="427.60" cy="408.20" r="1.3499999999999999" fill="none" stroke="#5db848" stroke-width="0.5"/>
<circle cx="431.00" cy="408.20" r="1.45" fill="none" stroke="#5db848" stroke-width="0.6"/>
<circle cx="433.60" cy="408.20" r="1.45" fill="none" stroke="#5db848" stroke-width="0.6"/>
<circle cx="440.30" cy="408.20" r="1.45" fill="none" stroke="#5db848" stroke-width="0.6"/>
<rect x="409.10" y="436.20" width="12.10" height="3.0" rx="1.5" fill="#5db848" fill-opacity="0.55" stroke="#5db848" stroke-width="0.6"/>
<circle cx="419.70" cy="437.70" r="1.3499999999999999" fill="none" stroke="#5db848" stroke-width="0.5"/>
<circle cx="418.10" cy="437.70" r="1.3499999999999999" fill="none" stroke="#5db848" stroke-width="0.5"/>
<circle cx="422.30" cy="437.70" r="1.45" fill="none" stroke="#5db848" stroke-width="0.6"/>
<circle cx="424.60" cy="437.70" r="1.45" fill="none" stroke="#5db848" stroke-width="0.6"/>
<circle cx="426.90" cy="437.70" r="1.45" fill="none" stroke="#5db848" stroke-width="0.6"/>
<circle cx="416.30" cy="467.20" r="1.45" fill="none" stroke="#5db848" stroke-width="0.6"/>
<circle cx="418.30" cy="467.20" r="1.45" fill="none" stroke="#5db848" stroke-width="0.6"/>
<circle cx="420.30" cy="467.20" r="1.45" fill="none" stroke="#5db848" stroke-width="0.6"/>
<circle cx="422.70" cy="467.20" r="1.45" fill="none" stroke="#5db848" stroke-width="0.6"/>
<circle cx="436.20" cy="467.20" r="1.45" fill="none" stroke="#5db848" stroke-width="0.6"/>
<rect x="407.60" y="495.20" width="4.60" height="3.0" rx="1.5" fill="#5db848" fill-opacity="0.55" stroke="#5db848" stroke-width="0.6"/>
<circle cx="410.70" cy="496.70" r="1.3499999999999999" fill="none" stroke="#5db848" stroke-width="0.5"/>
<circle cx="416.30" cy="496.70" r="1.45" fill="none" stroke="#5db848" stroke-width="0.6"/>
<rect x="406.80" y="524.70" width="3.10" height="3.0" rx="1.5" fill="#5db848" fill-opacity="0.55" stroke="#5db848" stroke-width="0.6"/>
<circle cx="408.40" cy="526.20" r="1.3499999999999999" fill="none" stroke="#5db848" stroke-width="0.5"/>
<circle cx="412.00" cy="555.70" r="1.45" fill="none" stroke="#5db848" stroke-width="0.6"/>
<circle cx="414.30" cy="585.20" r="1.45" fill="none" stroke="#5db848" stroke-width="0.6"/>
<line x1="462.50" y1="378.70" x2="470.50" y2="378.70" stroke="#222" stroke-width="1.1" />
<line x1="470.50" y1="370.00" x2="470.50" y2="387.40" stroke="#222" stroke-width="1.1" />
<rect x="452.3" y="369.90" width="10.2" height="17.6" fill="#3b8ed6" stroke="#1b3550" stroke-width="0.8"/>
<line x1="458.30" y1="369.90" x2="458.30" y2="387.50" stroke="#1b3550" stroke-width="0.9" />
<circle cx="485.40" cy="378.70" r="1.45" fill="none" stroke="#6aa8e0" stroke-width="0.6"/>
<circle cx="488.50" cy="378.70" r="1.45" fill="none" stroke="#6aa8e0" stroke-width="0.6"/>
<rect x="455.55" y="406.70" width="3.00" height="3.0" rx="1.5" fill="#3b8fd9" fill-opacity="0.55" stroke="#3b8fd9" stroke-width="0.6"/>
<circle cx="460.50" cy="408.20" r="1.45" fill="none" stroke="#3b8fd9" stroke-width="0.6"/>
<circle cx="463.20" cy="408.20" r="1.45" fill="none" stroke="#3b8fd9" stroke-width="0.6"/>
<circle cx="457.20" cy="437.70" r="1.45" fill="none" stroke="#3b8fd9" stroke-width="0.6"/>
<circle cx="460.20" cy="437.70" r="1.45" fill="none" stroke="#3b8fd9" stroke-width="0.6"/>
<circle cx="459.10" cy="467.20" r="1.45" fill="none" stroke="#3b8fd9" stroke-width="0.6"/>
<rect x="455.70" y="495.20" width="3.00" height="3.0" rx="1.5" fill="#3b8fd9" fill-opacity="0.55" stroke="#3b8fd9" stroke-width="0.6"/>
<circle cx="461.60" cy="496.70" r="1.45" fill="none" stroke="#3b8fd9" stroke-width="0.6"/>
<rect x="453.75" y="524.70" width="3.00" height="3.0" rx="1.5" fill="#3b8fd9" fill-opacity="0.55" stroke="#3b8fd9" stroke-width="0.6"/>
<circle cx="459.00" cy="555.70" r="1.45" fill="none" stroke="#3b8fd9" stroke-width="0.6"/>
<line x1="356.70" y1="600.40" x2="395.80" y2="600.40" stroke="#222" stroke-width="1.2" />
<line x1="358.10" y1="600.40" x2="358.10" y2="603.20" stroke="#111" stroke-width="1.0" />
<text transform="translate(360.60,607.1) rotate(-90)" font-size="7.1" text-anchor="end" fill="#1a1a1a" stroke="#1a1a1a" stroke-width="0.25">0</text>
<line x1="367.70" y1="600.40" x2="367.70" y2="603.20" stroke="#111" stroke-width="1.0" />
<text transform="translate(370.20,607.1) rotate(-90)" font-size="7.1" text-anchor="end" fill="#1a1a1a" stroke="#1a1a1a" stroke-width="0.25">20</text>
<line x1="377.30" y1="600.40" x2="377.30" y2="603.20" stroke="#111" stroke-width="1.0" />
<text transform="translate(379.80,607.1) rotate(-90)" font-size="7.1" text-anchor="end" fill="#1a1a1a" stroke="#1a1a1a" stroke-width="0.25">40</text>
<line x1="386.90" y1="600.40" x2="386.90" y2="603.20" stroke="#111" stroke-width="1.0" />
<text transform="translate(389.40,607.1) rotate(-90)" font-size="7.1" text-anchor="end" fill="#1a1a1a" stroke="#1a1a1a" stroke-width="0.25">60</text>
<line x1="403.50" y1="600.40" x2="443.30" y2="600.40" stroke="#222" stroke-width="1.2" />
<line x1="405.40" y1="600.40" x2="405.40" y2="603.20" stroke="#111" stroke-width="1.0" />
<text transform="translate(407.90,607.1) rotate(-90)" font-size="7.1" text-anchor="end" fill="#1a1a1a" stroke="#1a1a1a" stroke-width="0.25">0</text>
<line x1="421.50" y1="600.40" x2="421.50" y2="603.20" stroke="#111" stroke-width="1.0" />
<text transform="translate(424.00,607.1) rotate(-90)" font-size="7.1" text-anchor="end" fill="#1a1a1a" stroke="#1a1a1a" stroke-width="0.25">20</text>
<line x1="437.50" y1="600.40" x2="437.50" y2="603.20" stroke="#111" stroke-width="1.0" />
<text transform="translate(440.00,607.1) rotate(-90)" font-size="7.1" text-anchor="end" fill="#1a1a1a" stroke="#1a1a1a" stroke-width="0.25">40</text>
<line x1="450.80" y1="600.40" x2="490.00" y2="600.40" stroke="#222" stroke-width="1.2" />
<line x1="452.30" y1="600.40" x2="452.30" y2="603.20" stroke="#111" stroke-width="1.0" />
<text transform="translate(454.80,607.1) rotate(-90)" font-size="7.1" text-anchor="end" fill="#1a1a1a" stroke="#1a1a1a" stroke-width="0.25">0</text>
<line x1="460.00" y1="600.40" x2="460.00" y2="603.20" stroke="#111" stroke-width="1.0" />
<text transform="translate(462.50,607.1) rotate(-90)" font-size="7.1" text-anchor="end" fill="#1a1a1a" stroke="#1a1a1a" stroke-width="0.25">20</text>
<line x1="467.40" y1="600.40" x2="467.40" y2="603.20" stroke="#111" stroke-width="1.0" />
<text transform="translate(469.90,607.1) rotate(-90)" font-size="7.1" text-anchor="end" fill="#1a1a1a" stroke="#1a1a1a" stroke-width="0.25">40</text>
<line x1="475.10" y1="600.40" x2="475.10" y2="603.20" stroke="#111" stroke-width="1.0" />
<text transform="translate(477.60,607.1) rotate(-90)" font-size="7.1" text-anchor="end" fill="#1a1a1a" stroke="#1a1a1a" stroke-width="0.25">60</text>
<line x1="482.60" y1="600.40" x2="482.60" y2="603.20" stroke="#111" stroke-width="1.0" />
<text transform="translate(485.10,607.1) rotate(-90)" font-size="7.1" text-anchor="end" fill="#1a1a1a" stroke="#1a1a1a" stroke-width="0.25">80</text>
<text transform="translate(481.00,464.90) scale(1.200,1)" font-size="6.20" fill="#1a1a1a"  stroke="#1a1a1a" stroke-width="0.2">Contribution</text>
<defs><linearGradient id="contg" x1="0" x2="0" y1="1" y2="0"><stop offset="0" stop-color="#e8f4e6"/><stop offset="0.12" stop-color="#74ba58"/><stop offset="0.32" stop-color="#a6b83e"/><stop offset="0.5" stop-color="#f0b020"/><stop offset="0.72" stop-color="#f07a22"/><stop offset="1" stop-color="#e8302e"/></linearGradient></defs>
<rect x="480.80" y="468.00" width="7.20" height="35.10" fill="url(#contg)" />
<text transform="translate(490.20,472.40) scale(1.224,1)" font-size="5.73" fill="#1a1a1a"  stroke="#1a1a1a" stroke-width="0.2">100</text>
<text transform="translate(490.20,490.00) scale(1.151,1)" font-size="6.02" fill="#1a1a1a"  stroke="#1a1a1a" stroke-width="0.2">50</text>
<text transform="translate(490.20,506.80) scale(1.161,1)" font-size="5.73" fill="#1a1a1a"  stroke="#1a1a1a" stroke-width="0.2">0</text>
</svg></body></html>
